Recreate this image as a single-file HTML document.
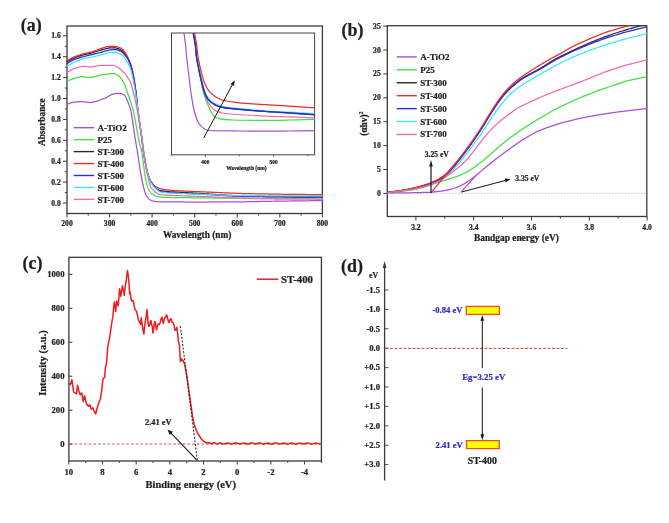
<!DOCTYPE html>
<html><head><meta charset="utf-8"><title>Figure</title>
<style>
html,body{margin:0;padding:0;background:#fff;}
body{width:669px;height:523px;overflow:hidden;}
svg{display:block;font-family:"Liberation Serif", serif;filter:blur(0.45px);}
</style></head>
<body>
<svg width="669" height="523" viewBox="0 0 669 523">
<rect x="0" y="0" width="669" height="523" fill="#fff"/>
<text x="20.8" y="30.5" font-size="18" text-anchor="start" fill="#1e1e1e" stroke="#1e1e1e" stroke-width="0.22" font-weight="bold">(a)</text>
<rect x="67" y="26" width="255.4" height="187.5" stroke="#3a3a3a" stroke-width="1.3" fill="none"/>
<line x1="63" y1="203" x2="67" y2="203" stroke="#3a3a3a" stroke-width="1"/>
<text x="60.8" y="205.51" font-size="7.6" text-anchor="end" fill="#1e1e1e" stroke="#1e1e1e" stroke-width="0.22" font-weight="bold">0.0</text>
<line x1="64.8" y1="192.55" x2="67" y2="192.55" stroke="#3a3a3a" stroke-width="0.9"/>
<line x1="63" y1="182.1" x2="67" y2="182.1" stroke="#3a3a3a" stroke-width="1"/>
<text x="60.8" y="184.61" font-size="7.6" text-anchor="end" fill="#1e1e1e" stroke="#1e1e1e" stroke-width="0.22" font-weight="bold">0.2</text>
<line x1="64.8" y1="171.65" x2="67" y2="171.65" stroke="#3a3a3a" stroke-width="0.9"/>
<line x1="63" y1="161.2" x2="67" y2="161.2" stroke="#3a3a3a" stroke-width="1"/>
<text x="60.8" y="163.71" font-size="7.6" text-anchor="end" fill="#1e1e1e" stroke="#1e1e1e" stroke-width="0.22" font-weight="bold">0.4</text>
<line x1="64.8" y1="150.75" x2="67" y2="150.75" stroke="#3a3a3a" stroke-width="0.9"/>
<line x1="63" y1="140.3" x2="67" y2="140.3" stroke="#3a3a3a" stroke-width="1"/>
<text x="60.8" y="142.81" font-size="7.6" text-anchor="end" fill="#1e1e1e" stroke="#1e1e1e" stroke-width="0.22" font-weight="bold">0.6</text>
<line x1="64.8" y1="129.85" x2="67" y2="129.85" stroke="#3a3a3a" stroke-width="0.9"/>
<line x1="63" y1="119.4" x2="67" y2="119.4" stroke="#3a3a3a" stroke-width="1"/>
<text x="60.8" y="121.91" font-size="7.6" text-anchor="end" fill="#1e1e1e" stroke="#1e1e1e" stroke-width="0.22" font-weight="bold">0.8</text>
<line x1="64.8" y1="108.95" x2="67" y2="108.95" stroke="#3a3a3a" stroke-width="0.9"/>
<line x1="63" y1="98.5" x2="67" y2="98.5" stroke="#3a3a3a" stroke-width="1"/>
<text x="60.8" y="101.01" font-size="7.6" text-anchor="end" fill="#1e1e1e" stroke="#1e1e1e" stroke-width="0.22" font-weight="bold">1.0</text>
<line x1="64.8" y1="88.05" x2="67" y2="88.05" stroke="#3a3a3a" stroke-width="0.9"/>
<line x1="63" y1="77.6" x2="67" y2="77.6" stroke="#3a3a3a" stroke-width="1"/>
<text x="60.8" y="80.11" font-size="7.6" text-anchor="end" fill="#1e1e1e" stroke="#1e1e1e" stroke-width="0.22" font-weight="bold">1.2</text>
<line x1="64.8" y1="67.15" x2="67" y2="67.15" stroke="#3a3a3a" stroke-width="0.9"/>
<line x1="63" y1="56.7" x2="67" y2="56.7" stroke="#3a3a3a" stroke-width="1"/>
<text x="60.8" y="59.21" font-size="7.6" text-anchor="end" fill="#1e1e1e" stroke="#1e1e1e" stroke-width="0.22" font-weight="bold">1.4</text>
<line x1="64.8" y1="46.25" x2="67" y2="46.25" stroke="#3a3a3a" stroke-width="0.9"/>
<line x1="63" y1="35.8" x2="67" y2="35.8" stroke="#3a3a3a" stroke-width="1"/>
<text x="60.8" y="38.31" font-size="7.6" text-anchor="end" fill="#1e1e1e" stroke="#1e1e1e" stroke-width="0.22" font-weight="bold">1.6</text>
<line x1="67" y1="213.5" x2="67" y2="217.5" stroke="#3a3a3a" stroke-width="1"/>
<text x="67" y="225.51" font-size="7.6" text-anchor="middle" fill="#1e1e1e" stroke="#1e1e1e" stroke-width="0.22" font-weight="bold">200</text>
<line x1="88.28" y1="213.5" x2="88.28" y2="215.7" stroke="#3a3a3a" stroke-width="0.9"/>
<line x1="109.57" y1="213.5" x2="109.57" y2="217.5" stroke="#3a3a3a" stroke-width="1"/>
<text x="109.57" y="225.51" font-size="7.6" text-anchor="middle" fill="#1e1e1e" stroke="#1e1e1e" stroke-width="0.22" font-weight="bold">300</text>
<line x1="130.85" y1="213.5" x2="130.85" y2="215.7" stroke="#3a3a3a" stroke-width="0.9"/>
<line x1="152.13" y1="213.5" x2="152.13" y2="217.5" stroke="#3a3a3a" stroke-width="1"/>
<text x="152.13" y="225.51" font-size="7.6" text-anchor="middle" fill="#1e1e1e" stroke="#1e1e1e" stroke-width="0.22" font-weight="bold">400</text>
<line x1="173.42" y1="213.5" x2="173.42" y2="215.7" stroke="#3a3a3a" stroke-width="0.9"/>
<line x1="194.7" y1="213.5" x2="194.7" y2="217.5" stroke="#3a3a3a" stroke-width="1"/>
<text x="194.7" y="225.51" font-size="7.6" text-anchor="middle" fill="#1e1e1e" stroke="#1e1e1e" stroke-width="0.22" font-weight="bold">500</text>
<line x1="215.98" y1="213.5" x2="215.98" y2="215.7" stroke="#3a3a3a" stroke-width="0.9"/>
<line x1="237.27" y1="213.5" x2="237.27" y2="217.5" stroke="#3a3a3a" stroke-width="1"/>
<text x="237.27" y="225.51" font-size="7.6" text-anchor="middle" fill="#1e1e1e" stroke="#1e1e1e" stroke-width="0.22" font-weight="bold">600</text>
<line x1="258.55" y1="213.5" x2="258.55" y2="215.7" stroke="#3a3a3a" stroke-width="0.9"/>
<line x1="279.83" y1="213.5" x2="279.83" y2="217.5" stroke="#3a3a3a" stroke-width="1"/>
<text x="279.83" y="225.51" font-size="7.6" text-anchor="middle" fill="#1e1e1e" stroke="#1e1e1e" stroke-width="0.22" font-weight="bold">700</text>
<line x1="301.12" y1="213.5" x2="301.12" y2="215.7" stroke="#3a3a3a" stroke-width="0.9"/>
<line x1="322.4" y1="213.5" x2="322.4" y2="217.5" stroke="#3a3a3a" stroke-width="1"/>
<text x="322.4" y="225.51" font-size="7.6" text-anchor="middle" fill="#1e1e1e" stroke="#1e1e1e" stroke-width="0.22" font-weight="bold">800</text>
<text x="197.1" y="237.97" font-size="9.3" text-anchor="middle" fill="#1e1e1e" stroke="#1e1e1e" stroke-width="0.22" font-weight="bold">Wavelength (nm)</text>
<text x="41.5" y="125.29" font-size="9.35" text-anchor="middle" fill="#1e1e1e" stroke="#1e1e1e" stroke-width="0.22" font-weight="bold" transform="rotate(-90 41.5 122.2)">Absorbance</text>
<path d="M67,104.14 L67.76,103.91 L68.53,103.67 L69.29,103.43 L70.06,103.19 L70.82,102.95 L71.59,102.72 L72.36,102.49 L73.13,102.3 L73.91,102.17 L74.71,102.08 L75.5,102.01 L76.3,101.96 L77.1,101.9 L77.9,101.85 L78.7,101.8 L79.5,101.74 L80.3,101.71 L81.1,101.7 L81.89,101.74 L82.69,101.81 L83.49,101.89 L84.29,101.97 L85.08,102.05 L85.88,102.13 L86.67,102.22 L87.47,102.3 L88.27,102.39 L89.06,102.48 L89.86,102.54 L90.65,102.54 L91.43,102.46 L92.21,102.31 L92.98,102.11 L93.76,101.91 L94.53,101.71 L95.31,101.5 L96.08,101.29 L96.85,101.06 L97.61,100.81 L98.36,100.55 L99.12,100.28 L99.87,100.01 L100.63,99.74 L101.38,99.48 L102.14,99.21 L102.89,98.94 L103.64,98.67 L104.4,98.4 L105.15,98.11 L105.88,97.81 L106.59,97.45 L107.29,97.06 L107.97,96.64 L108.65,96.22 L109.33,95.79 L110.01,95.37 L110.7,94.96 L111.4,94.6 L112.14,94.32 L112.9,94.11 L113.68,93.95 L114.47,93.8 L115.26,93.65 L116.04,93.51 L116.83,93.4 L117.63,93.35 L118.42,93.35 L119.22,93.38 L120.02,93.43 L120.8,93.53 L121.55,93.72 L122.27,94.03 L122.96,94.42 L123.63,94.84 L124.29,95.28 L124.89,95.78 L125.38,96.36 L125.77,97.03 L126.11,97.75 L126.42,98.49 L126.74,99.22 L127.05,99.96 L127.36,100.7 L127.68,101.43 L127.98,102.17 L128.28,102.92 L128.57,103.66 L128.85,104.41 L129.13,105.17 L129.4,105.92 L129.68,106.67 L129.95,107.42 L130.23,108.18 L130.49,108.93 L130.73,109.69 L130.92,110.46 L131.08,111.25 L131.2,112.04 L131.33,112.83 L131.45,113.62 L131.57,114.41 L131.69,115.2 L131.81,116 L131.94,116.79 L132.06,117.58 L132.18,118.37 L132.3,119.16 L132.42,119.95 L132.54,120.75 L132.66,121.54 L132.79,122.33 L132.91,123.12 L133.02,123.91 L133.14,124.71 L133.26,125.5 L133.37,126.29 L133.49,127.08 L133.6,127.88 L133.72,128.67 L133.83,129.46 L133.95,130.25 L134.06,131.05 L134.18,131.84 L134.3,132.63 L134.41,133.43 L134.53,134.22 L134.64,135.01 L134.76,135.8 L134.87,136.6 L134.99,137.39 L135.11,138.18 L135.24,138.97 L135.37,139.76 L135.51,140.55 L135.64,141.34 L135.78,142.13 L135.91,142.92 L136.05,143.71 L136.19,144.5 L136.32,145.29 L136.46,146.08 L136.59,146.87 L136.73,147.65 L136.86,148.44 L137,149.23 L137.13,150.02 L137.27,150.81 L137.4,151.6 L137.54,152.39 L137.66,153.18 L137.78,153.97 L137.9,154.77 L138.02,155.56 L138.13,156.35 L138.25,157.14 L138.37,157.94 L138.48,158.73 L138.6,159.52 L138.71,160.31 L138.83,161.11 L138.95,161.9 L139.06,162.69 L139.18,163.48 L139.3,164.28 L139.41,165.07 L139.53,165.86 L139.64,166.65 L139.76,167.45 L139.88,168.24 L139.99,169.03 L140.11,169.82 L140.23,170.62 L140.36,171.41 L140.51,172.19 L140.65,172.98 L140.8,173.77 L140.95,174.55 L141.11,175.34 L141.26,176.13 L141.41,176.91 L141.56,177.7 L141.71,178.49 L141.86,179.27 L142.01,180.06 L142.16,180.85 L142.31,181.63 L142.46,182.42 L142.61,183.21 L142.77,183.99 L142.94,184.77 L143.13,185.55 L143.34,186.33 L143.55,187.1 L143.76,187.87 L143.97,188.64 L144.18,189.42 L144.39,190.19 L144.6,190.96 L144.81,191.73 L145.03,192.51 L145.26,193.27 L145.54,194.01 L145.89,194.72 L146.3,195.4 L146.74,196.07 L147.18,196.73 L147.63,197.4 L148.1,198.04 L148.6,198.64 L149.19,199.15 L149.84,199.59 L150.54,199.98 L151.24,200.35 L151.96,200.7 L152.69,200.99 L153.45,201.19 L154.23,201.31 L155.03,201.39 L155.82,201.46 L156.62,201.52 L157.42,201.59 L158.22,201.65 L159.02,201.72 L159.82,201.77 L160.61,201.82 L161.41,201.85 L162.22,201.86 L163.02,201.86 L163.82,201.87 L164.62,201.87 L165.42,201.88 L166.22,201.88 L167.02,201.89 L167.82,201.89 L168.62,201.9 L169.42,201.9 L170.23,201.91 L171.03,201.91 L171.83,201.92 L172.63,201.92 L173.43,201.93 L174.23,201.93 L175.03,201.94 L175.83,201.94 L176.63,201.95 L177.43,201.95 L178.23,201.96 L179.04,201.96 L179.84,201.97 L180.64,201.97 L181.44,201.98 L182.24,201.98 L183.04,201.99 L183.84,201.99 L184.64,202 L185.44,202 L186.24,202.01 L187.05,202.01 L187.85,202.02 L188.65,202.02 L189.45,202.03 L190.25,202.03 L191.05,202.04 L191.85,202.04 L192.65,202.05 L193.45,202.05 L194.25,202.05 L195.06,202.06 L195.86,202.05 L196.66,202.05 L197.46,202.05 L198.26,202.04 L199.06,202.04 L199.86,202.04 L200.66,202.03 L201.46,202.03 L202.26,202.03 L203.06,202.02 L203.87,202.02 L204.67,202.01 L205.47,202.01 L206.27,202.01 L207.07,202 L207.87,202 L208.67,202 L209.47,201.99 L210.27,201.99 L211.07,201.99 L211.88,201.98 L212.68,201.98 L213.48,201.97 L214.28,201.97 L215.08,201.97 L215.88,201.96 L216.68,201.96 L217.48,201.96 L218.28,201.95 L219.08,201.95 L219.89,201.95 L220.69,201.94 L221.49,201.94 L222.29,201.93 L223.09,201.93 L223.89,201.93 L224.69,201.92 L225.49,201.92 L226.29,201.92 L227.09,201.91 L227.89,201.91 L228.7,201.9 L229.5,201.9 L230.3,201.9 L231.1,201.89 L231.9,201.89 L232.7,201.89 L233.5,201.88 L234.3,201.88 L235.1,201.88 L235.9,201.87 L236.71,201.87 L237.51,201.86 L238.31,201.86 L239.11,201.86 L239.91,201.85 L240.71,201.84 L241.51,201.83 L242.31,201.82 L243.11,201.8 L243.91,201.79 L244.71,201.77 L245.52,201.76 L246.32,201.75 L247.12,201.73 L247.92,201.72 L248.72,201.7 L249.52,201.69 L250.32,201.67 L251.12,201.66 L251.92,201.64 L252.72,201.63 L253.52,201.61 L254.32,201.6 L255.13,201.58 L255.93,201.57 L256.73,201.55 L257.53,201.54 L258.33,201.52 L259.13,201.51 L259.93,201.49 L260.73,201.48 L261.53,201.46 L262.33,201.45 L263.13,201.43 L263.93,201.42 L264.74,201.4 L265.54,201.39 L266.34,201.37 L267.14,201.36 L267.94,201.34 L268.74,201.33 L269.54,201.31 L270.34,201.3 L271.14,201.28 L271.94,201.27 L272.74,201.25 L273.54,201.24 L274.35,201.22 L275.15,201.21 L275.95,201.19 L276.75,201.18 L277.55,201.16 L278.35,201.15 L279.15,201.13 L279.95,201.12 L280.75,201.11 L281.55,201.1 L282.35,201.09 L283.16,201.08 L283.96,201.07 L284.76,201.06 L285.56,201.05 L286.36,201.04 L287.16,201.03 L287.96,201.02 L288.76,201.01 L289.56,201 L290.36,200.99 L291.16,200.98 L291.97,200.97 L292.77,200.96 L293.57,200.95 L294.37,200.94 L295.17,200.93 L295.97,200.92 L296.77,200.91 L297.57,200.9 L298.37,200.89 L299.17,200.88 L299.97,200.87 L300.78,200.86 L301.58,200.85 L302.38,200.84 L303.18,200.83 L303.98,200.82 L304.78,200.81 L305.58,200.8 L306.38,200.79 L307.18,200.78 L307.98,200.77 L308.78,200.76 L309.59,200.75 L310.39,200.74 L311.19,200.73 L311.99,200.72 L312.79,200.71 L313.59,200.7 L314.39,200.69 L315.19,200.68 L315.99,200.68 L316.79,200.67 L317.59,200.66 L318.4,200.65 L319.2,200.64 L320,200.63 L320.8,200.62 L321.6,200.61 L322.4,200.6" stroke="#a84ed8" stroke-width="1.25" fill="none" stroke-linejoin="round" stroke-linecap="round"/>
<path d="M67,81.15 L67.75,80.86 L68.49,80.57 L69.24,80.27 L69.99,79.98 L70.73,79.69 L71.48,79.39 L72.23,79.11 L72.98,78.83 L73.74,78.58 L74.5,78.35 L75.28,78.13 L76.05,77.92 L76.82,77.71 L77.6,77.5 L78.37,77.29 L79.14,77.08 L79.92,76.88 L80.7,76.74 L81.48,76.68 L82.28,76.7 L83.07,76.76 L83.87,76.84 L84.67,76.93 L85.46,77.01 L86.26,77.09 L87.06,77.18 L87.86,77.27 L88.65,77.35 L89.45,77.43 L90.24,77.47 L91.03,77.43 L91.81,77.31 L92.59,77.13 L93.36,76.92 L94.14,76.72 L94.91,76.51 L95.68,76.3 L96.46,76.09 L97.23,75.89 L98.01,75.68 L98.78,75.48 L99.56,75.28 L100.34,75.11 L101.13,74.97 L101.92,74.84 L102.72,74.73 L103.51,74.61 L104.3,74.5 L105.1,74.38 L105.89,74.27 L106.68,74.15 L107.48,74.04 L108.27,73.93 L109.07,73.83 L109.86,73.76 L110.66,73.72 L111.46,73.7 L112.26,73.68 L113.07,73.67 L113.86,73.68 L114.64,73.75 L115.39,73.95 L116.1,74.26 L116.79,74.64 L117.48,75.05 L118.17,75.47 L118.83,75.9 L119.45,76.39 L119.99,76.96 L120.47,77.59 L120.92,78.25 L121.37,78.91 L121.81,79.58 L122.26,80.25 L122.7,80.91 L123.14,81.58 L123.58,82.26 L123.98,82.94 L124.33,83.66 L124.63,84.39 L124.9,85.15 L125.16,85.91 L125.42,86.66 L125.68,87.42 L125.94,88.18 L126.2,88.94 L126.46,89.7 L126.72,90.46 L126.98,91.22 L127.24,91.97 L127.5,92.73 L127.76,93.49 L128.02,94.25 L128.28,95.01 L128.54,95.77 L128.79,96.53 L129.05,97.29 L129.3,98.05 L129.55,98.81 L129.81,99.57 L130.06,100.33 L130.32,101.09 L130.57,101.85 L130.83,102.61 L131.08,103.37 L131.34,104.13 L131.6,104.89 L131.85,105.65 L132.11,106.41 L132.37,107.17 L132.62,107.93 L132.87,108.69 L133.11,109.45 L133.32,110.23 L133.49,111.01 L133.65,111.79 L133.79,112.58 L133.94,113.37 L134.08,114.16 L134.23,114.95 L134.37,115.74 L134.52,116.53 L134.66,117.31 L134.81,118.1 L134.95,118.89 L135.09,119.68 L135.24,120.47 L135.38,121.26 L135.53,122.05 L135.67,122.83 L135.82,123.62 L135.96,124.41 L136.11,125.2 L136.25,125.99 L136.4,126.78 L136.54,127.57 L136.69,128.35 L136.83,129.14 L136.98,129.93 L137.13,130.72 L137.27,131.51 L137.42,132.3 L137.57,133.08 L137.71,133.87 L137.86,134.66 L138.01,135.45 L138.15,136.24 L138.3,137.03 L138.45,137.81 L138.59,138.6 L138.74,139.39 L138.89,140.18 L139.03,140.97 L139.18,141.75 L139.34,142.54 L139.51,143.32 L139.71,144.1 L139.92,144.87 L140.15,145.64 L140.38,146.41 L140.61,147.18 L140.84,147.94 L141.06,148.71 L141.28,149.48 L141.46,150.26 L141.61,151.05 L141.73,151.84 L141.84,152.63 L141.95,153.43 L142.06,154.22 L142.17,155.02 L142.29,155.81 L142.4,156.6 L142.51,157.4 L142.62,158.19 L142.73,158.99 L142.84,159.78 L142.95,160.58 L143.06,161.37 L143.17,162.16 L143.28,162.96 L143.39,163.75 L143.5,164.55 L143.61,165.34 L143.72,166.13 L143.83,166.93 L143.94,167.72 L144.05,168.52 L144.16,169.31 L144.27,170.11 L144.38,170.9 L144.49,171.69 L144.6,172.49 L144.71,173.28 L144.82,174.08 L144.93,174.87 L145.04,175.67 L145.15,176.46 L145.26,177.25 L145.38,178.05 L145.51,178.84 L145.68,179.62 L145.86,180.4 L146.05,181.18 L146.25,181.95 L146.45,182.73 L146.64,183.51 L146.84,184.29 L147.04,185.06 L147.24,185.84 L147.44,186.62 L147.65,187.39 L147.91,188.14 L148.24,188.86 L148.62,189.56 L149.03,190.25 L149.44,190.93 L149.86,191.61 L150.31,192.27 L150.8,192.89 L151.37,193.42 L152,193.88 L152.68,194.31 L153.36,194.73 L154.05,195.14 L154.74,195.55 L155.44,195.93 L156.16,196.23 L156.92,196.46 L157.7,196.64 L158.48,196.79 L159.27,196.92 L160.07,197.04 L160.86,197.12 L161.66,197.19 L162.46,197.26 L163.26,197.33 L164.06,197.38 L164.86,197.43 L165.66,197.46 L166.46,197.48 L167.26,197.49 L168.06,197.49 L168.87,197.5 L169.67,197.51 L170.47,197.52 L171.27,197.53 L172.07,197.54 L172.87,197.55 L173.68,197.55 L174.48,197.56 L175.28,197.57 L176.08,197.58 L176.88,197.59 L177.69,197.6 L178.49,197.6 L179.29,197.61 L180.09,197.62 L180.89,197.63 L181.69,197.64 L182.5,197.65 L183.3,197.66 L184.1,197.66 L184.9,197.67 L185.7,197.68 L186.5,197.69 L187.31,197.7 L188.11,197.71 L188.91,197.71 L189.71,197.72 L190.51,197.73 L191.31,197.74 L192.12,197.75 L192.92,197.76 L193.72,197.76 L194.52,197.77 L195.32,197.78 L196.13,197.79 L196.93,197.81 L197.73,197.82 L198.53,197.83 L199.33,197.84 L200.13,197.85 L200.94,197.86 L201.74,197.87 L202.54,197.88 L203.34,197.89 L204.14,197.9 L204.94,197.91 L205.75,197.93 L206.55,197.94 L207.35,197.95 L208.15,197.96 L208.95,197.97 L209.75,197.98 L210.56,197.99 L211.36,198 L212.16,198.01 L212.96,198.02 L213.76,198.03 L214.56,198.05 L215.37,198.06 L216.17,198.07 L216.97,198.08 L217.77,198.09 L218.57,198.1 L219.37,198.11 L220.18,198.12 L220.98,198.13 L221.78,198.14 L222.58,198.16 L223.38,198.17 L224.19,198.18 L224.99,198.19 L225.79,198.2 L226.59,198.21 L227.39,198.22 L228.19,198.23 L229,198.24 L229.8,198.25 L230.6,198.26 L231.4,198.28 L232.2,198.29 L233,198.3 L233.81,198.31 L234.61,198.32 L235.41,198.33 L236.21,198.34 L237.01,198.35 L237.81,198.36 L238.62,198.37 L239.42,198.38 L240.22,198.4 L241.02,198.4 L241.82,198.41 L242.62,198.42 L243.43,198.43 L244.23,198.44 L245.03,198.45 L245.83,198.46 L246.63,198.47 L247.44,198.47 L248.24,198.48 L249.04,198.49 L249.84,198.5 L250.64,198.51 L251.44,198.52 L252.25,198.53 L253.05,198.53 L253.85,198.54 L254.65,198.55 L255.45,198.56 L256.25,198.57 L257.06,198.58 L257.86,198.59 L258.66,198.59 L259.46,198.6 L260.26,198.61 L261.06,198.62 L261.87,198.63 L262.67,198.64 L263.47,198.65 L264.27,198.65 L265.07,198.66 L265.88,198.67 L266.68,198.68 L267.48,198.69 L268.28,198.7 L269.08,198.71 L269.88,198.71 L270.69,198.72 L271.49,198.73 L272.29,198.74 L273.09,198.75 L273.89,198.76 L274.69,198.77 L275.5,198.77 L276.3,198.78 L277.1,198.79 L277.9,198.8 L278.7,198.81 L279.5,198.82 L280.31,198.82 L281.11,198.83 L281.91,198.83 L282.71,198.83 L283.51,198.84 L284.32,198.84 L285.12,198.85 L285.92,198.85 L286.72,198.85 L287.52,198.86 L288.32,198.86 L289.13,198.87 L289.93,198.87 L290.73,198.87 L291.53,198.88 L292.33,198.88 L293.14,198.89 L293.94,198.89 L294.74,198.89 L295.54,198.9 L296.34,198.9 L297.14,198.9 L297.95,198.91 L298.75,198.91 L299.55,198.92 L300.35,198.92 L301.15,198.92 L301.95,198.93 L302.76,198.93 L303.56,198.94 L304.36,198.94 L305.16,198.94 L305.96,198.95 L306.77,198.95 L307.57,198.96 L308.37,198.96 L309.17,198.96 L309.97,198.97 L310.77,198.97 L311.58,198.98 L312.38,198.98 L313.18,198.98 L313.98,198.99 L314.78,198.99 L315.58,199 L316.39,199 L317.19,199 L317.99,199.01 L318.79,199.01 L319.59,199.02 L320.4,199.02 L321.2,199.02 L322,199.03 L322.4,199.03" stroke="#3fe040" stroke-width="1.25" fill="none" stroke-linejoin="round" stroke-linecap="round"/>
<path d="M67,61.92 L67.7,61.53 L68.39,61.13 L69.09,60.73 L69.78,60.33 L70.48,59.93 L71.17,59.53 L71.87,59.14 L72.57,58.75 L73.28,58.39 L74.01,58.06 L74.76,57.77 L75.51,57.49 L76.26,57.21 L77.01,56.93 L77.76,56.66 L78.52,56.38 L79.27,56.1 L80.02,55.82 L80.77,55.55 L81.53,55.3 L82.3,55.08 L83.08,54.89 L83.86,54.71 L84.65,54.55 L85.43,54.38 L86.21,54.21 L87,54.04 L87.78,53.88 L88.57,53.71 L89.35,53.54 L90.13,53.37 L90.91,53.19 L91.69,53 L92.46,52.77 L93.22,52.53 L93.98,52.28 L94.74,52.03 L95.51,51.78 L96.27,51.53 L97.03,51.27 L97.79,51.02 L98.55,50.77 L99.31,50.52 L100.08,50.29 L100.85,50.07 L101.62,49.86 L102.4,49.66 L103.17,49.46 L103.95,49.26 L104.73,49.06 L105.5,48.86 L106.28,48.66 L107.06,48.46 L107.83,48.27 L108.61,48.08 L109.4,47.94 L110.19,47.86 L110.98,47.83 L111.79,47.82 L112.59,47.82 L113.39,47.82 L114.19,47.82 L114.99,47.83 L115.78,47.89 L116.55,48.04 L117.29,48.29 L118.02,48.6 L118.75,48.94 L119.47,49.28 L120.2,49.63 L120.91,49.98 L121.61,50.36 L122.24,50.81 L122.81,51.35 L123.31,51.96 L123.8,52.59 L124.28,53.24 L124.76,53.88 L125.24,54.52 L125.72,55.16 L126.2,55.8 L126.68,56.45 L127.14,57.1 L127.56,57.77 L127.93,58.48 L128.26,59.21 L128.58,59.94 L128.88,60.68 L129.19,61.42 L129.5,62.16 L129.81,62.9 L130.12,63.64 L130.43,64.38 L130.72,65.13 L131,65.88 L131.23,66.64 L131.42,67.42 L131.59,68.2 L131.76,68.98 L131.93,69.77 L132.1,70.55 L132.27,71.33 L132.43,72.12 L132.6,72.9 L132.77,73.69 L132.94,74.47 L133.1,75.25 L133.27,76.04 L133.44,76.82 L133.6,77.61 L133.76,78.39 L133.9,79.18 L134.04,79.97 L134.16,80.76 L134.29,81.56 L134.41,82.35 L134.53,83.14 L134.66,83.93 L134.78,84.72 L134.91,85.52 L135.03,86.31 L135.15,87.1 L135.28,87.89 L135.4,88.68 L135.53,89.48 L135.65,90.27 L135.77,91.06 L135.89,91.85 L136,92.65 L136.1,93.44 L136.19,94.24 L136.28,95.03 L136.38,95.83 L136.47,96.63 L136.56,97.42 L136.65,98.22 L136.74,99.02 L136.83,99.81 L136.9,100.61 L136.98,101.41 L137.05,102.21 L137.12,103.01 L137.19,103.8 L137.27,104.6 L137.34,105.4 L137.41,106.2 L137.48,107 L137.56,107.8 L137.64,108.59 L137.74,109.39 L137.84,110.18 L137.96,110.98 L138.07,111.77 L138.19,112.56 L138.3,113.36 L138.42,114.15 L138.53,114.94 L138.65,115.74 L138.76,116.53 L138.88,117.32 L138.99,118.12 L139.11,118.91 L139.23,119.7 L139.34,120.5 L139.46,121.29 L139.57,122.08 L139.69,122.88 L139.8,123.67 L139.91,124.46 L140.02,125.26 L140.14,126.05 L140.25,126.85 L140.36,127.64 L140.47,128.43 L140.58,129.23 L140.69,130.02 L140.8,130.81 L140.91,131.61 L141.02,132.4 L141.14,133.2 L141.25,133.99 L141.36,134.78 L141.47,135.58 L141.58,136.37 L141.69,137.17 L141.8,137.96 L141.91,138.75 L142.02,139.55 L142.12,140.34 L142.21,141.14 L142.3,141.94 L142.38,142.73 L142.47,143.53 L142.55,144.33 L142.64,145.13 L142.72,145.92 L142.81,146.72 L142.9,147.51 L143.01,148.31 L143.13,149.1 L143.25,149.89 L143.37,150.69 L143.5,151.48 L143.62,152.27 L143.74,153.06 L143.87,153.85 L143.99,154.65 L144.11,155.44 L144.24,156.23 L144.36,157.02 L144.48,157.82 L144.61,158.61 L144.75,159.4 L144.9,160.18 L145.05,160.97 L145.2,161.76 L145.35,162.55 L145.51,163.33 L145.66,164.12 L145.81,164.91 L145.97,165.69 L146.12,166.48 L146.27,167.27 L146.43,168.05 L146.58,168.84 L146.74,169.63 L146.9,170.41 L147.08,171.19 L147.28,171.97 L147.5,172.74 L147.73,173.5 L147.96,174.27 L148.19,175.04 L148.42,175.81 L148.67,176.57 L148.95,177.32 L149.26,178.06 L149.58,178.79 L149.9,179.52 L150.23,180.25 L150.59,180.97 L150.98,181.66 L151.42,182.33 L151.89,182.97 L152.38,183.61 L152.86,184.25 L153.35,184.89 L153.83,185.53 L154.31,186.17 L154.79,186.81 L155.29,187.43 L155.82,188.01 L156.42,188.52 L157.08,188.95 L157.77,189.35 L158.48,189.73 L159.19,190.07 L159.93,190.35 L160.7,190.54 L161.48,190.68 L162.27,190.79 L163.07,190.9 L163.86,191 L164.66,191.11 L165.45,191.22 L166.25,191.32 L167.04,191.43 L167.84,191.53 L168.63,191.63 L169.43,191.71 L170.23,191.76 L171.03,191.81 L171.83,191.86 L172.63,191.9 L173.43,191.94 L174.23,191.98 L175.03,192.03 L175.83,192.07 L176.63,192.11 L177.43,192.15 L178.23,192.2 L179.03,192.24 L179.83,192.28 L180.63,192.32 L181.44,192.37 L182.24,192.41 L183.04,192.45 L183.84,192.49 L184.64,192.54 L185.44,192.58 L186.24,192.62 L187.04,192.66 L187.84,192.71 L188.64,192.75 L189.44,192.79 L190.24,192.84 L191.04,192.88 L191.84,192.92 L192.64,192.96 L193.44,193.01 L194.24,193.05 L195.04,193.1 L195.84,193.15 L196.64,193.2 L197.44,193.25 L198.24,193.31 L199.04,193.36 L199.84,193.41 L200.64,193.46 L201.44,193.52 L202.24,193.57 L203.04,193.62 L203.84,193.68 L204.64,193.73 L205.44,193.78 L206.24,193.83 L207.04,193.89 L207.84,193.94 L208.64,193.99 L209.44,194.04 L210.24,194.1 L211.04,194.15 L211.84,194.2 L212.64,194.26 L213.44,194.31 L214.24,194.36 L215.04,194.41 L215.84,194.47 L216.64,194.52 L217.44,194.57 L218.24,194.62 L219.04,194.68 L219.84,194.73 L220.64,194.78 L221.44,194.84 L222.24,194.89 L223.04,194.94 L223.84,194.99 L224.64,195.05 L225.44,195.1 L226.24,195.15 L227.04,195.2 L227.84,195.26 L228.64,195.31 L229.44,195.36 L230.24,195.42 L231.04,195.47 L231.84,195.52 L232.64,195.57 L233.44,195.63 L234.24,195.68 L235.04,195.73 L235.84,195.78 L236.64,195.84 L237.44,195.89 L238.24,195.94 L239.04,195.99 L239.84,196.04 L240.64,196.08 L241.44,196.11 L242.24,196.13 L243.04,196.14 L243.84,196.15 L244.65,196.17 L245.45,196.18 L246.25,196.19 L247.05,196.21 L247.85,196.22 L248.65,196.23 L249.45,196.24 L250.26,196.26 L251.06,196.27 L251.86,196.28 L252.66,196.29 L253.46,196.31 L254.26,196.32 L255.07,196.33 L255.87,196.35 L256.67,196.36 L257.47,196.37 L258.27,196.38 L259.07,196.4 L259.87,196.41 L260.68,196.42 L261.48,196.44 L262.28,196.45 L263.08,196.46 L263.88,196.47 L264.68,196.49 L265.49,196.5 L266.29,196.51 L267.09,196.53 L267.89,196.54 L268.69,196.55 L269.49,196.56 L270.29,196.58 L271.1,196.59 L271.9,196.6 L272.7,196.62 L273.5,196.63 L274.3,196.64 L275.1,196.65 L275.91,196.67 L276.71,196.68 L277.51,196.69 L278.31,196.71 L279.11,196.72 L279.91,196.73 L280.72,196.73 L281.52,196.74 L282.32,196.74 L283.12,196.75 L283.92,196.75 L284.72,196.75 L285.52,196.76 L286.33,196.76 L287.13,196.77 L287.93,196.77 L288.73,196.77 L289.53,196.78 L290.33,196.78 L291.14,196.79 L291.94,196.79 L292.74,196.79 L293.54,196.8 L294.34,196.8 L295.14,196.81 L295.95,196.81 L296.75,196.81 L297.55,196.82 L298.35,196.82 L299.15,196.82 L299.95,196.83 L300.76,196.83 L301.56,196.84 L302.36,196.84 L303.16,196.84 L303.96,196.85 L304.76,196.85 L305.57,196.86 L306.37,196.86 L307.17,196.86 L307.97,196.87 L308.77,196.87 L309.57,196.88 L310.38,196.88 L311.18,196.88 L311.98,196.89 L312.78,196.89 L313.58,196.9 L314.38,196.9 L315.19,196.9 L315.99,196.91 L316.79,196.91 L317.59,196.92 L318.39,196.92 L319.19,196.92 L320,196.93 L320.8,196.93 L321.6,196.94 L322.4,196.94" stroke="#2a2a2a" stroke-width="1.25" fill="none" stroke-linejoin="round" stroke-linecap="round"/>
<path d="M67,60.67 L67.71,60.29 L68.41,59.91 L69.12,59.53 L69.82,59.15 L70.53,58.77 L71.23,58.39 L71.94,58.01 L72.65,57.64 L73.37,57.29 L74.1,56.98 L74.85,56.69 L75.6,56.41 L76.35,56.13 L77.1,55.85 L77.86,55.58 L78.61,55.3 L79.36,55.02 L80.11,54.75 L80.87,54.48 L81.63,54.23 L82.4,54.01 L83.17,53.82 L83.96,53.65 L84.74,53.48 L85.52,53.31 L86.31,53.15 L87.09,52.98 L87.88,52.81 L88.66,52.64 L89.44,52.48 L90.23,52.31 L91,52.12 L91.77,51.91 L92.53,51.66 L93.29,51.39 L94.04,51.1 L94.79,50.82 L95.54,50.53 L96.28,50.25 L97.03,49.96 L97.78,49.68 L98.53,49.39 L99.28,49.11 L100.03,48.83 L100.79,48.57 L101.55,48.31 L102.31,48.05 L103.06,47.79 L103.82,47.54 L104.58,47.28 L105.34,47.03 L106.11,46.8 L106.88,46.61 L107.66,46.51 L108.46,46.47 L109.26,46.46 L110.06,46.46 L110.86,46.46 L111.66,46.46 L112.46,46.46 L113.26,46.46 L114.07,46.46 L114.87,46.47 L115.66,46.51 L116.45,46.61 L117.22,46.79 L117.99,47 L118.76,47.24 L119.51,47.49 L120.24,47.8 L120.92,48.18 L121.56,48.65 L122.18,49.16 L122.78,49.68 L123.37,50.22 L123.93,50.78 L124.44,51.39 L124.88,52.05 L125.3,52.73 L125.71,53.42 L126.12,54.11 L126.53,54.8 L126.93,55.49 L127.33,56.19 L127.69,56.9 L128.03,57.62 L128.34,58.36 L128.65,59.1 L128.96,59.84 L129.26,60.58 L129.57,61.32 L129.87,62.06 L130.17,62.81 L130.45,63.56 L130.71,64.31 L130.94,65.08 L131.16,65.85 L131.39,66.62 L131.61,67.39 L131.83,68.16 L132.05,68.93 L132.27,69.7 L132.48,70.47 L132.69,71.25 L132.88,72.03 L133.04,72.81 L133.19,73.6 L133.34,74.38 L133.48,75.17 L133.63,75.96 L133.78,76.75 L133.92,77.54 L134.07,78.32 L134.21,79.11 L134.36,79.9 L134.49,80.69 L134.61,81.48 L134.72,82.28 L134.82,83.07 L134.92,83.87 L135.02,84.66 L135.12,85.46 L135.21,86.25 L135.31,87.05 L135.41,87.84 L135.51,88.64 L135.61,89.43 L135.71,90.23 L135.81,91.03 L135.91,91.82 L136,92.62 L136.1,93.41 L136.19,94.21 L136.28,95 L136.37,95.8 L136.47,96.6 L136.56,97.39 L136.65,98.19 L136.74,98.99 L136.82,99.78 L136.9,100.58 L136.97,101.38 L137.05,102.18 L137.12,102.97 L137.19,103.77 L137.26,104.57 L137.34,105.37 L137.41,106.17 L137.48,106.97 L137.56,107.76 L137.64,108.56 L137.73,109.36 L137.84,110.15 L137.95,110.94 L138.07,111.74 L138.18,112.53 L138.3,113.32 L138.41,114.12 L138.53,114.91 L138.64,115.7 L138.76,116.5 L138.87,117.29 L138.99,118.08 L139.1,118.87 L139.22,119.67 L139.34,120.46 L139.45,121.25 L139.57,122.05 L139.68,122.84 L139.79,123.63 L139.91,124.43 L140.02,125.22 L140.13,126.01 L140.24,126.81 L140.35,127.6 L140.46,128.4 L140.57,129.19 L140.69,129.98 L140.8,130.78 L140.91,131.57 L141.02,132.36 L141.13,133.16 L141.24,133.95 L141.35,134.75 L141.46,135.54 L141.57,136.33 L141.69,137.13 L141.8,137.92 L141.91,138.71 L142.02,139.51 L142.12,140.3 L142.21,141.1 L142.3,141.9 L142.38,142.69 L142.46,143.49 L142.55,144.29 L142.63,145.08 L142.72,145.88 L142.8,146.68 L142.9,147.47 L143.01,148.27 L143.12,149.06 L143.24,149.85 L143.37,150.64 L143.49,151.44 L143.61,152.23 L143.74,153.02 L143.86,153.81 L143.98,154.6 L144.11,155.4 L144.23,156.19 L144.35,156.98 L144.48,157.77 L144.61,158.56 L144.74,159.35 L144.89,160.14 L145.04,160.93 L145.19,161.71 L145.34,162.5 L145.5,163.29 L145.65,164.07 L145.8,164.86 L145.96,165.65 L146.11,166.43 L146.26,167.22 L146.42,168.01 L146.57,168.79 L146.73,169.58 L146.89,170.36 L147.07,171.14 L147.27,171.92 L147.49,172.69 L147.72,173.46 L147.94,174.23 L148.17,174.99 L148.41,175.76 L148.66,176.52 L148.93,177.27 L149.24,178.01 L149.56,178.75 L149.88,179.48 L150.21,180.21 L150.56,180.93 L150.95,181.62 L151.39,182.29 L151.86,182.93 L152.36,183.56 L152.88,184.16 L153.45,184.72 L154.05,185.24 L154.67,185.75 L155.3,186.23 L155.96,186.68 L156.66,187.07 L157.37,187.41 L158.11,187.74 L158.84,188.05 L159.59,188.34 L160.34,188.59 L161.12,188.78 L161.9,188.94 L162.69,189.09 L163.48,189.24 L164.26,189.39 L165.05,189.52 L165.85,189.64 L166.64,189.75 L167.43,189.85 L168.23,189.96 L169.02,190.06 L169.82,190.17 L170.61,190.27 L171.41,190.37 L172.21,190.44 L173,190.5 L173.8,190.54 L174.6,190.58 L175.41,190.62 L176.21,190.65 L177.01,190.69 L177.81,190.73 L178.61,190.76 L179.41,190.8 L180.21,190.84 L181.01,190.87 L181.81,190.91 L182.61,190.95 L183.41,190.99 L184.21,191.02 L185.01,191.06 L185.81,191.1 L186.61,191.13 L187.41,191.17 L188.22,191.21 L189.02,191.24 L189.82,191.28 L190.62,191.32 L191.42,191.35 L192.22,191.39 L193.02,191.43 L193.82,191.46 L194.62,191.5 L195.42,191.54 L196.22,191.57 L197.02,191.61 L197.82,191.64 L198.62,191.67 L199.42,191.71 L200.23,191.74 L201.03,191.78 L201.83,191.81 L202.63,191.85 L203.43,191.88 L204.23,191.92 L205.03,191.95 L205.83,191.99 L206.63,192.02 L207.43,192.05 L208.23,192.09 L209.03,192.12 L209.83,192.16 L210.63,192.19 L211.44,192.23 L212.24,192.26 L213.04,192.3 L213.84,192.33 L214.64,192.37 L215.44,192.4 L216.24,192.44 L217.04,192.47 L217.84,192.5 L218.64,192.54 L219.44,192.57 L220.24,192.61 L221.04,192.64 L221.84,192.68 L222.64,192.71 L223.45,192.75 L224.25,192.78 L225.05,192.82 L225.85,192.85 L226.65,192.88 L227.45,192.92 L228.25,192.95 L229.05,192.99 L229.85,193.02 L230.65,193.06 L231.45,193.09 L232.25,193.13 L233.05,193.16 L233.85,193.2 L234.66,193.23 L235.46,193.27 L236.26,193.3 L237.06,193.33 L237.86,193.37 L238.66,193.4 L239.46,193.44 L240.26,193.47 L241.06,193.49 L241.86,193.51 L242.66,193.53 L243.47,193.54 L244.27,193.56 L245.07,193.57 L245.87,193.59 L246.67,193.6 L247.47,193.62 L248.27,193.63 L249.07,193.65 L249.88,193.66 L250.68,193.68 L251.48,193.69 L252.28,193.71 L253.08,193.72 L253.88,193.74 L254.68,193.75 L255.49,193.77 L256.29,193.78 L257.09,193.8 L257.89,193.81 L258.69,193.83 L259.49,193.84 L260.29,193.86 L261.09,193.87 L261.9,193.89 L262.7,193.9 L263.5,193.92 L264.3,193.93 L265.1,193.95 L265.9,193.96 L266.7,193.98 L267.51,193.99 L268.31,194.01 L269.11,194.02 L269.91,194.04 L270.71,194.05 L271.51,194.07 L272.31,194.08 L273.11,194.1 L273.92,194.11 L274.72,194.13 L275.52,194.14 L276.32,194.16 L277.12,194.17 L277.92,194.19 L278.72,194.2 L279.52,194.21 L280.33,194.23 L281.13,194.24 L281.93,194.25 L282.73,194.25 L283.53,194.26 L284.33,194.27 L285.13,194.28 L285.94,194.29 L286.74,194.3 L287.54,194.31 L288.34,194.32 L289.14,194.32 L289.94,194.33 L290.74,194.34 L291.55,194.35 L292.35,194.36 L293.15,194.37 L293.95,194.38 L294.75,194.39 L295.55,194.4 L296.35,194.4 L297.16,194.41 L297.96,194.42 L298.76,194.43 L299.56,194.44 L300.36,194.45 L301.16,194.46 L301.96,194.47 L302.77,194.48 L303.57,194.48 L304.37,194.49 L305.17,194.5 L305.97,194.51 L306.77,194.52 L307.57,194.53 L308.38,194.54 L309.18,194.55 L309.98,194.56 L310.78,194.56 L311.58,194.57 L312.38,194.58 L313.18,194.59 L313.99,194.6 L314.79,194.61 L315.59,194.62 L316.39,194.63 L317.19,194.63 L317.99,194.64 L318.79,194.65 L319.6,194.66 L320.4,194.67 L321.2,194.68 L322,194.69 L322.4,194.69" stroke="#ee2a2a" stroke-width="1.25" fill="none" stroke-linejoin="round" stroke-linecap="round"/>
<path d="M67,63.49 L67.7,63.09 L68.39,62.7 L69.09,62.3 L69.78,61.9 L70.48,61.5 L71.17,61.1 L71.87,60.71 L72.57,60.32 L73.29,59.97 L74.02,59.67 L74.77,59.4 L75.53,59.15 L76.3,58.9 L77.06,58.66 L77.82,58.41 L78.59,58.17 L79.35,57.93 L80.11,57.68 L80.88,57.44 L81.64,57.19 L82.4,56.96 L83.17,56.73 L83.94,56.52 L84.72,56.32 L85.5,56.13 L86.28,55.94 L87.05,55.75 L87.83,55.56 L88.61,55.37 L89.39,55.17 L90.17,54.98 L90.95,54.79 L91.72,54.6 L92.5,54.41 L93.28,54.22 L94.06,54.03 L94.84,53.84 L95.61,53.65 L96.39,53.46 L97.17,53.26 L97.95,53.07 L98.73,52.88 L99.5,52.69 L100.28,52.49 L101.05,52.28 L101.83,52.07 L102.6,51.85 L103.37,51.64 L104.14,51.42 L104.91,51.21 L105.68,50.99 L106.46,50.78 L107.23,50.56 L108,50.35 L108.77,50.15 L109.56,49.99 L110.35,49.87 L111.14,49.79 L111.94,49.73 L112.74,49.66 L113.54,49.6 L114.33,49.54 L115.13,49.5 L115.92,49.52 L116.68,49.64 L117.43,49.88 L118.17,50.18 L118.9,50.49 L119.64,50.81 L120.37,51.14 L121.09,51.47 L121.79,51.85 L122.43,52.3 L123,52.83 L123.54,53.42 L124.06,54.03 L124.58,54.64 L125.1,55.25 L125.61,55.86 L126.13,56.47 L126.64,57.09 L127.14,57.71 L127.58,58.37 L127.96,59.07 L128.29,59.79 L128.6,60.53 L128.91,61.27 L129.22,62.01 L129.53,62.75 L129.84,63.49 L130.15,64.23 L130.45,64.97 L130.75,65.71 L131.01,66.46 L131.24,67.23 L131.42,68 L131.59,68.79 L131.75,69.57 L131.91,70.36 L132.07,71.14 L132.24,71.93 L132.4,72.71 L132.56,73.5 L132.72,74.28 L132.88,75.07 L133.04,75.85 L133.2,76.64 L133.36,77.42 L133.52,78.21 L133.68,78.99 L133.83,79.78 L133.97,80.57 L134.11,81.36 L134.25,82.15 L134.38,82.94 L134.51,83.73 L134.65,84.52 L134.78,85.31 L134.92,86.1 L135.05,86.89 L135.18,87.67 L135.32,88.46 L135.45,89.25 L135.59,90.04 L135.72,90.83 L135.85,91.63 L135.96,92.42 L136.07,93.21 L136.16,94.01 L136.26,94.8 L136.35,95.6 L136.44,96.4 L136.54,97.19 L136.63,97.99 L136.72,98.78 L136.8,99.58 L136.88,100.38 L136.96,101.17 L137.03,101.97 L137.1,102.77 L137.17,103.57 L137.25,104.37 L137.32,105.16 L137.39,105.96 L137.46,106.76 L137.54,107.56 L137.62,108.35 L137.71,109.15 L137.81,109.95 L137.92,110.74 L138.04,111.53 L138.15,112.32 L138.27,113.12 L138.38,113.91 L138.5,114.7 L138.61,115.5 L138.73,116.29 L138.84,117.08 L138.96,117.87 L139.07,118.67 L139.19,119.46 L139.3,120.25 L139.42,121.05 L139.54,121.84 L139.65,122.63 L139.76,123.42 L139.88,124.22 L139.99,125.01 L140.1,125.8 L140.21,126.6 L140.32,127.39 L140.43,128.19 L140.54,128.98 L140.66,129.77 L140.77,130.57 L140.88,131.36 L140.99,132.15 L141.1,132.95 L141.21,133.74 L141.32,134.53 L141.43,135.33 L141.54,136.12 L141.66,136.91 L141.77,137.71 L141.88,138.5 L141.99,139.29 L142.09,140.09 L142.19,140.88 L142.27,141.68 L142.36,142.48 L142.44,143.27 L142.53,144.07 L142.61,144.87 L142.69,145.66 L142.78,146.46 L142.87,147.26 L142.97,148.05 L143.09,148.84 L143.21,149.64 L143.33,150.43 L143.46,151.22 L143.58,152.01 L143.7,152.8 L143.83,153.59 L143.95,154.39 L144.07,155.18 L144.2,155.97 L144.32,156.76 L144.44,157.55 L144.57,158.34 L144.7,159.13 L144.85,159.92 L145,160.71 L145.15,161.5 L145.3,162.28 L145.46,163.07 L145.61,163.85 L145.76,164.64 L145.91,165.43 L146.07,166.21 L146.22,167 L146.37,167.79 L146.53,168.57 L146.68,169.36 L146.84,170.14 L147.02,170.93 L147.21,171.7 L147.43,172.47 L147.65,173.24 L147.88,174.01 L148.11,174.78 L148.34,175.54 L148.58,176.31 L148.85,177.06 L149.15,177.8 L149.47,178.54 L149.79,179.27 L150.12,180 L150.46,180.72 L150.83,181.43 L151.26,182.1 L151.72,182.75 L152.21,183.39 L152.69,184.02 L153.18,184.66 L153.66,185.3 L154.14,185.94 L154.62,186.58 L155.11,187.22 L155.62,187.83 L156.16,188.41 L156.75,188.94 L157.37,189.44 L158.01,189.93 L158.65,190.4 L159.31,190.83 L160.01,191.16 L160.76,191.38 L161.54,191.52 L162.33,191.63 L163.13,191.74 L163.92,191.85 L164.71,191.95 L165.51,192.06 L166.3,192.17 L167.1,192.27 L167.89,192.38 L168.69,192.47 L169.48,192.54 L170.28,192.6 L171.08,192.64 L171.88,192.68 L172.68,192.72 L173.48,192.76 L174.28,192.8 L175.08,192.84 L175.88,192.88 L176.68,192.92 L177.48,192.96 L178.28,193 L179.08,193.04 L179.88,193.08 L180.68,193.12 L181.48,193.16 L182.28,193.19 L183.09,193.23 L183.89,193.27 L184.69,193.31 L185.49,193.35 L186.29,193.39 L187.09,193.43 L187.89,193.47 L188.69,193.51 L189.49,193.55 L190.29,193.59 L191.09,193.63 L191.89,193.67 L192.69,193.71 L193.49,193.75 L194.29,193.79 L195.09,193.83 L195.89,193.87 L196.69,193.92 L197.49,193.97 L198.29,194.02 L199.09,194.06 L199.89,194.11 L200.69,194.16 L201.49,194.21 L202.29,194.25 L203.09,194.3 L203.89,194.35 L204.69,194.39 L205.49,194.44 L206.29,194.49 L207.09,194.54 L207.89,194.58 L208.69,194.63 L209.49,194.68 L210.29,194.73 L211.09,194.77 L211.88,194.82 L212.68,194.87 L213.48,194.91 L214.28,194.96 L215.08,195.01 L215.88,195.06 L216.68,195.1 L217.48,195.15 L218.28,195.2 L219.08,195.25 L219.88,195.29 L220.68,195.34 L221.48,195.39 L222.28,195.43 L223.08,195.48 L223.88,195.53 L224.68,195.58 L225.48,195.62 L226.28,195.67 L227.08,195.72 L227.88,195.77 L228.68,195.81 L229.48,195.86 L230.28,195.91 L231.08,195.95 L231.88,196 L232.68,196.05 L233.48,196.1 L234.28,196.14 L235.08,196.19 L235.88,196.24 L236.68,196.29 L237.48,196.33 L238.28,196.38 L239.08,196.43 L239.88,196.47 L240.68,196.5 L241.48,196.52 L242.28,196.54 L243.08,196.55 L243.88,196.56 L244.68,196.56 L245.49,196.57 L246.29,196.58 L247.09,196.59 L247.89,196.6 L248.69,196.61 L249.49,196.62 L250.29,196.62 L251.09,196.63 L251.89,196.64 L252.7,196.65 L253.5,196.66 L254.3,196.67 L255.1,196.67 L255.9,196.68 L256.7,196.69 L257.5,196.7 L258.3,196.71 L259.11,196.72 L259.91,196.73 L260.71,196.73 L261.51,196.74 L262.31,196.75 L263.11,196.76 L263.91,196.77 L264.71,196.78 L265.51,196.79 L266.32,196.79 L267.12,196.8 L267.92,196.81 L268.72,196.82 L269.52,196.83 L270.32,196.84 L271.12,196.85 L271.92,196.85 L272.73,196.86 L273.53,196.87 L274.33,196.88 L275.13,196.89 L275.93,196.9 L276.73,196.91 L277.53,196.91 L278.33,196.92 L279.13,196.93 L279.94,196.94 L280.74,196.94 L281.54,196.95 L282.34,196.95 L283.14,196.96 L283.94,196.96 L284.74,196.96 L285.54,196.97 L286.35,196.97 L287.15,196.97 L287.95,196.98 L288.75,196.98 L289.55,196.99 L290.35,196.99 L291.15,196.99 L291.95,197 L292.76,197 L293.56,197.01 L294.36,197.01 L295.16,197.01 L295.96,197.02 L296.76,197.02 L297.56,197.03 L298.36,197.03 L299.16,197.03 L299.97,197.04 L300.77,197.04 L301.57,197.05 L302.37,197.05 L303.17,197.05 L303.97,197.06 L304.77,197.06 L305.57,197.07 L306.38,197.07 L307.18,197.07 L307.98,197.08 L308.78,197.08 L309.58,197.09 L310.38,197.09 L311.18,197.09 L311.98,197.1 L312.79,197.1 L313.59,197.1 L314.39,197.11 L315.19,197.11 L315.99,197.12 L316.79,197.12 L317.59,197.12 L318.39,197.13 L319.2,197.13 L320,197.14 L320.8,197.14 L321.6,197.14 L322.4,197.15" stroke="#2a2ae8" stroke-width="1.25" fill="none" stroke-linejoin="round" stroke-linecap="round"/>
<path d="M67,66.31 L67.69,65.9 L68.37,65.48 L69.06,65.07 L69.74,64.65 L70.43,64.24 L71.11,63.82 L71.8,63.41 L72.49,63.01 L73.19,62.63 L73.91,62.29 L74.65,61.98 L75.4,61.7 L76.15,61.41 L76.9,61.13 L77.65,60.85 L78.4,60.57 L79.15,60.29 L79.9,60.01 L80.65,59.73 L81.4,59.45 L82.16,59.18 L82.92,58.94 L83.69,58.73 L84.47,58.56 L85.25,58.41 L86.04,58.26 L86.83,58.12 L87.62,57.97 L88.41,57.83 L89.19,57.68 L89.98,57.54 L90.77,57.39 L91.55,57.23 L92.33,57.05 L93.11,56.87 L93.89,56.68 L94.67,56.49 L95.45,56.3 L96.23,56.11 L97,55.92 L97.78,55.73 L98.56,55.53 L99.34,55.34 L100.11,55.14 L100.89,54.94 L101.66,54.72 L102.43,54.51 L103.2,54.29 L103.98,54.08 L104.75,53.86 L105.52,53.65 L106.29,53.43 L107.06,53.22 L107.84,53.01 L108.61,52.81 L109.39,52.64 L110.18,52.53 L110.97,52.46 L111.77,52.42 L112.57,52.38 L113.37,52.34 L114.17,52.31 L114.97,52.29 L115.75,52.32 L116.52,52.45 L117.25,52.71 L117.97,53.04 L118.69,53.4 L119.4,53.77 L120.11,54.13 L120.82,54.5 L121.53,54.87 L122.22,55.27 L122.84,55.73 L123.39,56.28 L123.88,56.91 L124.33,57.56 L124.77,58.23 L125.22,58.89 L125.66,59.56 L126.11,60.23 L126.55,60.89 L126.99,61.57 L127.41,62.25 L127.79,62.95 L128.14,63.67 L128.47,64.4 L128.79,65.13 L129.11,65.86 L129.43,66.6 L129.76,67.33 L130.08,68.06 L130.4,68.8 L130.71,69.53 L130.99,70.28 L131.23,71.04 L131.42,71.82 L131.6,72.6 L131.77,73.38 L131.94,74.16 L132.11,74.95 L132.28,75.73 L132.45,76.51 L132.62,77.29 L132.79,78.08 L132.95,78.86 L133.12,79.64 L133.29,80.43 L133.44,81.21 L133.59,82 L133.74,82.79 L133.89,83.58 L134.03,84.36 L134.17,85.15 L134.32,85.94 L134.46,86.73 L134.6,87.52 L134.75,88.31 L134.88,89.09 L135.02,89.88 L135.14,90.68 L135.27,91.47 L135.39,92.26 L135.52,93.05 L135.65,93.84 L135.77,94.63 L135.9,95.42 L136.02,96.21 L136.15,97.01 L136.27,97.8 L136.39,98.59 L136.5,99.38 L136.61,100.18 L136.72,100.97 L136.83,101.76 L136.93,102.56 L137.04,103.35 L137.15,104.15 L137.26,104.94 L137.37,105.73 L137.47,106.53 L137.58,107.32 L137.69,108.11 L137.81,108.91 L137.92,109.7 L138.04,110.49 L138.15,111.29 L138.27,112.08 L138.38,112.87 L138.5,113.66 L138.61,114.46 L138.73,115.25 L138.84,116.04 L138.96,116.84 L139.08,117.63 L139.19,118.42 L139.31,119.21 L139.42,120.01 L139.54,120.8 L139.65,121.59 L139.77,122.39 L139.88,123.18 L139.99,123.97 L140.1,124.77 L140.21,125.56 L140.32,126.35 L140.43,127.15 L140.55,127.94 L140.66,128.73 L140.77,129.53 L140.88,130.32 L140.99,131.11 L141.1,131.91 L141.21,132.7 L141.32,133.49 L141.43,134.29 L141.55,135.08 L141.66,135.87 L141.77,136.67 L141.88,137.46 L141.99,138.25 L142.09,139.05 L142.19,139.84 L142.27,140.64 L142.36,141.44 L142.44,142.23 L142.53,143.03 L142.61,143.83 L142.69,144.62 L142.78,145.42 L142.87,146.22 L142.98,147.01 L143.09,147.8 L143.21,148.59 L143.33,149.39 L143.46,150.18 L143.58,150.97 L143.7,151.76 L143.83,152.55 L143.95,153.34 L144.07,154.14 L144.2,154.93 L144.32,155.72 L144.44,156.51 L144.57,157.3 L144.7,158.09 L144.84,158.88 L144.98,159.67 L145.13,160.46 L145.28,161.24 L145.42,162.03 L145.57,162.82 L145.72,163.61 L145.87,164.39 L146.01,165.18 L146.16,165.97 L146.31,166.76 L146.45,167.54 L146.6,168.33 L146.75,169.12 L146.91,169.9 L147.08,170.69 L147.27,171.46 L147.47,172.24 L147.68,173.01 L147.89,173.79 L148.1,174.56 L148.31,175.33 L148.53,176.1 L148.77,176.86 L149.04,177.62 L149.33,178.37 L149.62,179.11 L149.92,179.85 L150.22,180.6 L150.53,181.33 L150.86,182.06 L151.23,182.77 L151.63,183.46 L152.04,184.15 L152.46,184.83 L152.9,185.49 L153.39,186.12 L153.92,186.72 L154.46,187.31 L155.02,187.89 L155.58,188.46 L156.16,189 L156.76,189.53 L157.38,190.05 L158,190.55 L158.62,191.05 L159.26,191.5 L159.95,191.85 L160.69,192.07 L161.47,192.2 L162.26,192.3 L163.06,192.39 L163.85,192.48 L164.65,192.57 L165.45,192.66 L166.24,192.75 L167.04,192.84 L167.83,192.92 L168.63,193 L169.43,193.06 L170.23,193.11 L171.03,193.15 L171.83,193.18 L172.63,193.21 L173.43,193.25 L174.23,193.28 L175.03,193.31 L175.83,193.35 L176.63,193.38 L177.43,193.41 L178.23,193.44 L179.03,193.48 L179.83,193.51 L180.63,193.54 L181.43,193.57 L182.24,193.61 L183.04,193.64 L183.84,193.67 L184.64,193.71 L185.44,193.74 L186.24,193.77 L187.04,193.8 L187.84,193.84 L188.64,193.87 L189.44,193.9 L190.24,193.94 L191.04,193.97 L191.84,194 L192.64,194.03 L193.44,194.07 L194.24,194.1 L195.04,194.13 L195.84,194.16 L196.64,194.18 L197.45,194.21 L198.25,194.24 L199.05,194.27 L199.85,194.29 L200.65,194.32 L201.45,194.35 L202.25,194.37 L203.05,194.4 L203.85,194.43 L204.65,194.46 L205.45,194.48 L206.25,194.51 L207.05,194.54 L207.85,194.57 L208.65,194.59 L209.46,194.62 L210.26,194.65 L211.06,194.68 L211.86,194.7 L212.66,194.73 L213.46,194.76 L214.26,194.78 L215.06,194.81 L215.86,194.84 L216.66,194.87 L217.46,194.89 L218.26,194.92 L219.06,194.95 L219.86,194.98 L220.67,195 L221.47,195.03 L222.27,195.06 L223.07,195.08 L223.87,195.11 L224.67,195.14 L225.47,195.17 L226.27,195.19 L227.07,195.22 L227.87,195.25 L228.67,195.28 L229.47,195.3 L230.27,195.33 L231.07,195.36 L231.87,195.39 L232.68,195.41 L233.48,195.44 L234.28,195.47 L235.08,195.49 L235.88,195.52 L236.68,195.55 L237.48,195.58 L238.28,195.6 L239.08,195.63 L239.88,195.65 L240.68,195.67 L241.48,195.68 L242.28,195.69 L243.09,195.69 L243.89,195.69 L244.69,195.7 L245.49,195.7 L246.29,195.7 L247.09,195.7 L247.89,195.7 L248.69,195.71 L249.5,195.71 L250.3,195.71 L251.1,195.71 L251.9,195.71 L252.7,195.72 L253.5,195.72 L254.3,195.72 L255.1,195.72 L255.9,195.73 L256.71,195.73 L257.51,195.73 L258.31,195.73 L259.11,195.73 L259.91,195.74 L260.71,195.74 L261.51,195.74 L262.31,195.74 L263.11,195.74 L263.92,195.75 L264.72,195.75 L265.52,195.75 L266.32,195.75 L267.12,195.76 L267.92,195.76 L268.72,195.76 L269.52,195.76 L270.33,195.76 L271.13,195.77 L271.93,195.77 L272.73,195.77 L273.53,195.77 L274.33,195.77 L275.13,195.78 L275.93,195.78 L276.73,195.78 L277.54,195.78 L278.34,195.79 L279.14,195.79 L279.94,195.79 L280.74,195.79 L281.54,195.79 L282.34,195.8 L283.14,195.8 L283.94,195.8 L284.75,195.8 L285.55,195.8 L286.35,195.81 L287.15,195.81 L287.95,195.81 L288.75,195.81 L289.55,195.81 L290.35,195.82 L291.16,195.82 L291.96,195.82 L292.76,195.82 L293.56,195.82 L294.36,195.83 L295.16,195.83 L295.96,195.83 L296.76,195.83 L297.56,195.83 L298.37,195.83 L299.17,195.84 L299.97,195.84 L300.77,195.84 L301.57,195.84 L302.37,195.84 L303.17,195.85 L303.97,195.85 L304.77,195.85 L305.58,195.85 L306.38,195.85 L307.18,195.86 L307.98,195.86 L308.78,195.86 L309.58,195.86 L310.38,195.86 L311.18,195.87 L311.99,195.87 L312.79,195.87 L313.59,195.87 L314.39,195.87 L315.19,195.88 L315.99,195.88 L316.79,195.88 L317.59,195.88 L318.39,195.88 L319.2,195.89 L320,195.89 L320.8,195.89 L321.6,195.89 L322.4,195.89" stroke="#3ee8ee" stroke-width="1.25" fill="none" stroke-linejoin="round" stroke-linecap="round"/>
<path d="M67,72.37 L67.7,71.98 L68.39,71.58 L69.09,71.18 L69.78,70.78 L70.48,70.38 L71.17,69.98 L71.87,69.59 L72.57,69.21 L73.29,68.87 L74.04,68.58 L74.8,68.35 L75.57,68.14 L76.35,67.93 L77.12,67.72 L77.89,67.51 L78.67,67.31 L79.44,67.1 L80.22,66.89 L80.99,66.69 L81.77,66.49 L82.55,66.34 L83.33,66.26 L84.12,66.28 L84.91,66.36 L85.7,66.47 L86.49,66.58 L87.29,66.7 L88.08,66.81 L88.87,66.92 L89.67,67 L90.46,67.02 L91.25,66.96 L92.04,66.85 L92.83,66.71 L93.62,66.57 L94.41,66.43 L95.19,66.28 L95.98,66.14 L96.77,66 L97.56,65.85 L98.35,65.71 L99.14,65.58 L99.93,65.47 L100.73,65.4 L101.53,65.37 L102.33,65.35 L103.13,65.34 L103.93,65.33 L104.73,65.32 L105.53,65.31 L106.34,65.31 L107.14,65.3 L107.94,65.29 L108.74,65.28 L109.54,65.28 L110.34,65.29 L111.15,65.31 L111.95,65.33 L112.74,65.38 L113.52,65.48 L114.28,65.69 L115.01,65.99 L115.73,66.33 L116.45,66.69 L117.16,67.05 L117.88,67.41 L118.58,67.78 L119.27,68.19 L119.91,68.66 L120.5,69.18 L121.07,69.74 L121.64,70.31 L122.2,70.88 L122.76,71.45 L123.32,72.02 L123.89,72.6 L124.44,73.17 L124.99,73.76 L125.5,74.37 L125.99,75 L126.47,75.65 L126.93,76.3 L127.4,76.95 L127.85,77.61 L128.29,78.28 L128.72,78.96 L129.14,79.64 L129.55,80.33 L129.94,81.03 L130.27,81.75 L130.54,82.5 L130.78,83.26 L131.02,84.03 L131.25,84.79 L131.48,85.56 L131.72,86.33 L131.95,87.1 L132.18,87.86 L132.4,88.63 L132.61,89.41 L132.81,90.18 L133.01,90.96 L133.19,91.74 L133.38,92.52 L133.57,93.3 L133.76,94.08 L133.95,94.86 L134.14,95.64 L134.33,96.41 L134.52,97.19 L134.71,97.97 L134.9,98.75 L135.08,99.53 L135.25,100.31 L135.42,101.1 L135.58,101.88 L135.74,102.67 L135.9,103.45 L136.06,104.24 L136.22,105.03 L136.38,105.81 L136.54,106.6 L136.7,107.38 L136.86,108.17 L137.01,108.96 L137.15,109.75 L137.28,110.54 L137.41,111.33 L137.54,112.12 L137.67,112.91 L137.8,113.7 L137.93,114.49 L138.06,115.28 L138.19,116.07 L138.32,116.87 L138.45,117.66 L138.57,118.45 L138.7,119.24 L138.83,120.03 L138.96,120.82 L139.09,121.61 L139.22,122.4 L139.35,123.2 L139.48,123.99 L139.61,124.78 L139.74,125.57 L139.87,126.36 L140,127.15 L140.13,127.94 L140.26,128.73 L140.39,129.52 L140.53,130.31 L140.66,131.11 L140.79,131.9 L140.92,132.69 L141.05,133.48 L141.18,134.27 L141.31,135.06 L141.44,135.85 L141.58,136.64 L141.71,137.43 L141.84,138.22 L141.97,139.01 L142.09,139.81 L142.21,140.6 L142.32,141.39 L142.43,142.19 L142.54,142.98 L142.65,143.78 L142.76,144.57 L142.87,145.36 L142.98,146.16 L143.09,146.95 L143.2,147.75 L143.31,148.54 L143.42,149.34 L143.53,150.13 L143.64,150.92 L143.75,151.72 L143.86,152.51 L143.97,153.31 L144.08,154.1 L144.19,154.89 L144.31,155.69 L144.42,156.48 L144.54,157.27 L144.65,158.07 L144.77,158.86 L144.88,159.65 L145,160.45 L145.12,161.24 L145.23,162.03 L145.35,162.83 L145.46,163.62 L145.58,164.41 L145.69,165.21 L145.81,166 L145.92,166.79 L146.04,167.59 L146.17,168.38 L146.32,169.17 L146.47,169.95 L146.63,170.74 L146.79,171.52 L146.95,172.31 L147.11,173.1 L147.27,173.88 L147.43,174.67 L147.59,175.45 L147.75,176.24 L147.91,177.02 L148.07,177.81 L148.23,178.59 L148.39,179.38 L148.56,180.16 L148.75,180.94 L148.98,181.71 L149.23,182.47 L149.49,183.23 L149.75,183.98 L150.01,184.74 L150.28,185.5 L150.54,186.25 L150.82,187 L151.14,187.72 L151.54,188.39 L152.04,188.99 L152.61,189.54 L153.2,190.08 L153.8,190.61 L154.39,191.15 L155,191.67 L155.62,192.18 L156.26,192.64 L156.94,193.06 L157.64,193.46 L158.34,193.84 L159.06,194.19 L159.79,194.46 L160.56,194.64 L161.34,194.73 L162.14,194.8 L162.94,194.85 L163.74,194.9 L164.54,194.96 L165.34,195.01 L166.14,195.06 L166.94,195.12 L167.74,195.17 L168.54,195.22 L169.34,195.26 L170.14,195.3 L170.94,195.33 L171.74,195.36 L172.54,195.39 L173.35,195.42 L174.15,195.45 L174.95,195.48 L175.75,195.51 L176.55,195.54 L177.35,195.57 L178.15,195.6 L178.95,195.63 L179.75,195.66 L180.56,195.69 L181.36,195.72 L182.16,195.75 L182.96,195.78 L183.76,195.8 L184.56,195.83 L185.36,195.86 L186.16,195.89 L186.96,195.92 L187.77,195.95 L188.57,195.98 L189.37,196.01 L190.17,196.04 L190.97,196.07 L191.77,196.1 L192.57,196.13 L193.37,196.16 L194.18,196.19 L194.98,196.22 L195.78,196.25 L196.58,196.29 L197.38,196.32 L198.18,196.36 L198.98,196.39 L199.78,196.43 L200.58,196.46 L201.38,196.5 L202.19,196.53 L202.99,196.57 L203.79,196.6 L204.59,196.63 L205.39,196.67 L206.19,196.7 L206.99,196.74 L207.79,196.77 L208.59,196.81 L209.39,196.84 L210.19,196.88 L211,196.91 L211.8,196.95 L212.6,196.98 L213.4,197.02 L214.2,197.05 L215,197.08 L215.8,197.12 L216.6,197.15 L217.4,197.19 L218.2,197.22 L219.01,197.26 L219.81,197.29 L220.61,197.33 L221.41,197.36 L222.21,197.4 L223.01,197.43 L223.81,197.46 L224.61,197.5 L225.41,197.53 L226.21,197.57 L227.01,197.6 L227.82,197.64 L228.62,197.67 L229.42,197.71 L230.22,197.74 L231.02,197.78 L231.82,197.81 L232.62,197.85 L233.42,197.88 L234.22,197.91 L235.02,197.95 L235.83,197.98 L236.63,198.02 L237.43,198.05 L238.23,198.09 L239.03,198.12 L239.83,198.15 L240.63,198.18 L241.43,198.2 L242.23,198.22 L243.04,198.23 L243.84,198.24 L244.64,198.26 L245.44,198.27 L246.24,198.28 L247.04,198.3 L247.85,198.31 L248.65,198.32 L249.45,198.33 L250.25,198.35 L251.05,198.36 L251.85,198.37 L252.66,198.38 L253.46,198.4 L254.26,198.41 L255.06,198.42 L255.86,198.44 L256.66,198.45 L257.46,198.46 L258.27,198.47 L259.07,198.49 L259.87,198.5 L260.67,198.51 L261.47,198.53 L262.27,198.54 L263.08,198.55 L263.88,198.56 L264.68,198.58 L265.48,198.59 L266.28,198.6 L267.08,198.62 L267.89,198.63 L268.69,198.64 L269.49,198.65 L270.29,198.67 L271.09,198.68 L271.89,198.69 L272.7,198.71 L273.5,198.72 L274.3,198.73 L275.1,198.74 L275.9,198.76 L276.7,198.77 L277.51,198.78 L278.31,198.8 L279.11,198.81 L279.91,198.82 L280.71,198.82 L281.51,198.83 L282.32,198.83 L283.12,198.84 L283.92,198.84 L284.72,198.84 L285.52,198.85 L286.32,198.85 L287.13,198.86 L287.93,198.86 L288.73,198.86 L289.53,198.87 L290.33,198.87 L291.13,198.88 L291.94,198.88 L292.74,198.88 L293.54,198.89 L294.34,198.89 L295.14,198.9 L295.94,198.9 L296.75,198.9 L297.55,198.91 L298.35,198.91 L299.15,198.91 L299.95,198.92 L300.75,198.92 L301.56,198.93 L302.36,198.93 L303.16,198.93 L303.96,198.94 L304.76,198.94 L305.56,198.95 L306.37,198.95 L307.17,198.95 L307.97,198.96 L308.77,198.96 L309.57,198.97 L310.37,198.97 L311.18,198.97 L311.98,198.98 L312.78,198.98 L313.58,198.99 L314.38,198.99 L315.18,198.99 L315.99,199 L316.79,199 L317.59,199.01 L318.39,199.01 L319.19,199.01 L319.99,199.02 L320.8,199.02 L321.6,199.03 L322.4,199.03" stroke="#f06ab0" stroke-width="1.25" fill="none" stroke-linejoin="round" stroke-linecap="round"/>
<line x1="73.7" y1="127.7" x2="94.1" y2="127.7" stroke="#a84ed8" stroke-width="1.4"/>
<text x="97.4" y="131.07" font-size="9" text-anchor="start" fill="#1e1e1e" stroke="#1e1e1e" stroke-width="0.22" font-weight="bold">A-TiO2</text>
<line x1="73.7" y1="139.65" x2="94.1" y2="139.65" stroke="#3fe040" stroke-width="1.4"/>
<text x="97.4" y="143.02" font-size="9" text-anchor="start" fill="#1e1e1e" stroke="#1e1e1e" stroke-width="0.22" font-weight="bold">P25</text>
<line x1="73.7" y1="151.6" x2="94.1" y2="151.6" stroke="#2a2a2a" stroke-width="1.4"/>
<text x="97.4" y="154.97" font-size="9" text-anchor="start" fill="#1e1e1e" stroke="#1e1e1e" stroke-width="0.22" font-weight="bold">ST-300</text>
<line x1="73.7" y1="163.55" x2="94.1" y2="163.55" stroke="#ee2a2a" stroke-width="1.4"/>
<text x="97.4" y="166.92" font-size="9" text-anchor="start" fill="#1e1e1e" stroke="#1e1e1e" stroke-width="0.22" font-weight="bold">ST-400</text>
<line x1="73.7" y1="175.5" x2="94.1" y2="175.5" stroke="#2a2ae8" stroke-width="1.4"/>
<text x="97.4" y="178.87" font-size="9" text-anchor="start" fill="#1e1e1e" stroke="#1e1e1e" stroke-width="0.22" font-weight="bold">ST-500</text>
<line x1="73.7" y1="187.45" x2="94.1" y2="187.45" stroke="#3ee8ee" stroke-width="1.4"/>
<text x="97.4" y="190.82" font-size="9" text-anchor="start" fill="#1e1e1e" stroke="#1e1e1e" stroke-width="0.22" font-weight="bold">ST-600</text>
<line x1="73.7" y1="199.4" x2="94.1" y2="199.4" stroke="#f06ab0" stroke-width="1.4"/>
<text x="97.4" y="202.77" font-size="9" text-anchor="start" fill="#1e1e1e" stroke="#1e1e1e" stroke-width="0.22" font-weight="bold">ST-700</text>
<rect x="171.5" y="33" width="143.1" height="121.8" stroke="#444" stroke-width="1" fill="#fff"/>
<line x1="171.15" y1="154.8" x2="171.15" y2="156.2" stroke="#444" stroke-width="0.8"/>
<line x1="205.3" y1="154.8" x2="205.3" y2="157" stroke="#444" stroke-width="0.8"/>
<line x1="239.45" y1="154.8" x2="239.45" y2="156.2" stroke="#444" stroke-width="0.8"/>
<line x1="273.6" y1="154.8" x2="273.6" y2="157" stroke="#444" stroke-width="0.8"/>
<line x1="307.75" y1="154.8" x2="307.75" y2="156.2" stroke="#444" stroke-width="0.8"/>
<text x="205.3" y="163.78" font-size="5.4" text-anchor="middle" fill="#1e1e1e" stroke="#1e1e1e" stroke-width="0.22" font-weight="bold">400</text>
<text x="273.6" y="163.78" font-size="5.4" text-anchor="middle" fill="#1e1e1e" stroke="#1e1e1e" stroke-width="0.22" font-weight="bold">500</text>
<text x="246.4" y="170.22" font-size="5.5" text-anchor="middle" fill="#1e1e1e" stroke="#1e1e1e" stroke-width="0.22" font-weight="bold">Wavelength (nm)</text>
<clipPath id="ic"><rect x="171.5" y="33" width="143.1" height="121.8"/></clipPath>
<g clip-path="url(#ic)">
<path d="M184,33 C184.25,35 185,40.5 185.5,45 C186,49.5 186.13,52.4 187,60 C187.87,67.6 189.57,82.43 190.7,90.6 C191.83,98.77 192.52,103.65 193.8,109 C195.08,114.35 196.62,119.4 198.4,122.7 C200.18,126 202.47,127.5 204.5,128.8 C206.53,130.1 204.68,130.13 210.6,130.5 C216.52,130.87 230.1,130.9 240,131 C249.9,131.1 261.67,131.1 270,131.1 C278.33,131.1 282.57,131.08 290,131 C297.43,130.92 310.5,130.67 314.6,130.6" stroke="#a84ed8" stroke-width="1.2" fill="none" stroke-linejoin="round" stroke-linecap="round"/>
<path d="M193,33 C193.38,35.17 194.53,41.5 195.3,46 C196.07,50.5 196.33,52.57 197.6,60 C198.87,67.43 201.12,82.95 202.9,90.6 C204.68,98.25 206.5,101.7 208.3,105.9 C210.1,110.1 211.78,113.63 213.7,115.8 C215.62,117.97 216.5,118.2 219.8,118.9 C223.1,119.6 226.8,119.75 233.5,120 C240.2,120.25 250.58,120.4 260,120.4 C269.42,120.4 280.9,120.17 290,120 C299.1,119.83 310.5,119.5 314.6,119.4" stroke="#3fe040" stroke-width="1.2" fill="none" stroke-linejoin="round" stroke-linecap="round"/>
<path d="M193.6,33 C194,35.17 195.23,41.5 196,46 C196.77,50.5 197.23,54.33 198.2,60 C199.17,65.67 200.75,74.67 201.8,80 C202.85,85.33 203.42,88.2 204.5,92 C205.58,95.8 206.52,99.72 208.3,102.8 C210.08,105.88 212.27,108.72 215.2,110.5 C218.13,112.28 218.43,112.62 225.9,113.5 C233.37,114.38 249.32,115.23 260,115.8 C270.68,116.37 280.9,116.55 290,116.9 C299.1,117.25 310.5,117.73 314.6,117.9" stroke="#f06ab0" stroke-width="1.2" fill="none" stroke-linejoin="round" stroke-linecap="round"/>
<path d="M193.4,33 C193.8,35.17 195.07,41.5 195.8,46 C196.53,50.5 196.62,53.25 197.8,60 C198.98,66.75 201.28,80.33 202.9,86.5 C204.52,92.67 205.98,94.45 207.5,97 C209.02,99.55 210.25,100.5 212,101.8 C213.75,103.1 215.68,103.9 218,104.8 C220.32,105.7 218.9,106.25 225.9,107.2 C232.9,108.15 249.32,109.67 260,110.5 C270.68,111.33 280.9,111.7 290,112.2 C299.1,112.7 310.5,113.28 314.6,113.5" stroke="#3ee8ee" stroke-width="1.2" fill="none" stroke-linejoin="round" stroke-linecap="round"/>
<path d="M193.4,33 C193.77,35.17 195,41.5 195.6,46 C196.2,50.5 195.77,53.17 197,60 C198.23,66.83 201.22,80.58 203,87 C204.78,93.42 205.67,95.53 207.7,98.5 C209.73,101.47 212.17,103.23 215.2,104.8 C218.23,106.37 218.43,106.87 225.9,107.9 C233.37,108.93 249.32,110.15 260,111 C270.68,111.85 280.9,112.4 290,113 C299.1,113.6 310.5,114.33 314.6,114.6" stroke="#2a2a2a" stroke-width="1.2" fill="none" stroke-linejoin="round" stroke-linecap="round"/>
<path d="M193.2,33 C193.57,35.17 194.8,41.5 195.4,46 C196,50.5 195.55,53.08 196.8,60 C198.05,66.92 201.12,81 202.9,87.5 C204.68,94 205.45,96.07 207.5,99 C209.55,101.93 212.13,103.57 215.2,105.1 C218.27,106.63 218.43,107.18 225.9,108.2 C233.37,109.22 249.32,110.37 260,111.2 C270.68,112.03 280.9,112.6 290,113.2 C299.1,113.8 310.5,114.53 314.6,114.8" stroke="#2a2ae8" stroke-width="1.2" fill="none" stroke-linejoin="round" stroke-linecap="round"/>
<path d="M194.6,33 C194.97,35.17 196.13,41.5 196.8,46 C197.47,50.5 197.32,53.83 198.6,60 C199.88,66.17 202.5,77.52 204.5,83 C206.5,88.48 208.05,90.23 210.6,92.9 C213.15,95.57 215.98,97.47 219.8,99 C223.62,100.53 226.8,101.2 233.5,102.1 C240.2,103 251.85,103.8 260,104.4 C268.15,105 273.3,105.13 282.4,105.7 C291.5,106.27 309.23,107.45 314.6,107.8" stroke="#ee2a2a" stroke-width="1.2" fill="none" stroke-linejoin="round" stroke-linecap="round"/>
</g>
<line x1="203.7" y1="138" x2="232.67" y2="84.16" stroke="#1a1a1a" stroke-width="1"/>
<polygon points="234.8,80.2 233.96,85.99 230.43,84.1" fill="#1a1a1a"/>
<text x="341.5" y="35.9" font-size="18" text-anchor="start" fill="#1e1e1e" stroke="#1e1e1e" stroke-width="0.22" font-weight="bold">(b)</text>
<rect x="387.3" y="25.7" width="259.5" height="190.8" stroke="#3a3a3a" stroke-width="1.3" fill="none"/>
<line x1="383.3" y1="193.4" x2="387.3" y2="193.4" stroke="#3a3a3a" stroke-width="1"/>
<text x="380.8" y="195.94" font-size="7.7" text-anchor="end" fill="#1e1e1e" stroke="#1e1e1e" stroke-width="0.22" font-weight="bold">0</text>
<line x1="383.3" y1="169.5" x2="387.3" y2="169.5" stroke="#3a3a3a" stroke-width="1"/>
<text x="380.8" y="172.04" font-size="7.7" text-anchor="end" fill="#1e1e1e" stroke="#1e1e1e" stroke-width="0.22" font-weight="bold">5</text>
<line x1="383.3" y1="145.6" x2="387.3" y2="145.6" stroke="#3a3a3a" stroke-width="1"/>
<text x="380.8" y="148.14" font-size="7.7" text-anchor="end" fill="#1e1e1e" stroke="#1e1e1e" stroke-width="0.22" font-weight="bold">10</text>
<line x1="383.3" y1="121.7" x2="387.3" y2="121.7" stroke="#3a3a3a" stroke-width="1"/>
<text x="380.8" y="124.24" font-size="7.7" text-anchor="end" fill="#1e1e1e" stroke="#1e1e1e" stroke-width="0.22" font-weight="bold">15</text>
<line x1="383.3" y1="97.8" x2="387.3" y2="97.8" stroke="#3a3a3a" stroke-width="1"/>
<text x="380.8" y="100.34" font-size="7.7" text-anchor="end" fill="#1e1e1e" stroke="#1e1e1e" stroke-width="0.22" font-weight="bold">20</text>
<line x1="383.3" y1="73.9" x2="387.3" y2="73.9" stroke="#3a3a3a" stroke-width="1"/>
<text x="380.8" y="76.44" font-size="7.7" text-anchor="end" fill="#1e1e1e" stroke="#1e1e1e" stroke-width="0.22" font-weight="bold">25</text>
<line x1="383.3" y1="50" x2="387.3" y2="50" stroke="#3a3a3a" stroke-width="1"/>
<text x="380.8" y="52.54" font-size="7.7" text-anchor="end" fill="#1e1e1e" stroke="#1e1e1e" stroke-width="0.22" font-weight="bold">30</text>
<line x1="383.3" y1="26.1" x2="387.3" y2="26.1" stroke="#3a3a3a" stroke-width="1"/>
<text x="380.8" y="28.64" font-size="7.7" text-anchor="end" fill="#1e1e1e" stroke="#1e1e1e" stroke-width="0.22" font-weight="bold">35</text>
<line x1="415.9" y1="216.5" x2="415.9" y2="220.5" stroke="#3a3a3a" stroke-width="1"/>
<text x="415.9" y="229.51" font-size="7.6" text-anchor="middle" fill="#1e1e1e" stroke="#1e1e1e" stroke-width="0.22" font-weight="bold">3.2</text>
<line x1="444.8" y1="216.5" x2="444.8" y2="218.7" stroke="#3a3a3a" stroke-width="0.9"/>
<line x1="473.7" y1="216.5" x2="473.7" y2="220.5" stroke="#3a3a3a" stroke-width="1"/>
<text x="473.7" y="229.51" font-size="7.6" text-anchor="middle" fill="#1e1e1e" stroke="#1e1e1e" stroke-width="0.22" font-weight="bold">3.4</text>
<line x1="502.6" y1="216.5" x2="502.6" y2="218.7" stroke="#3a3a3a" stroke-width="0.9"/>
<line x1="531.5" y1="216.5" x2="531.5" y2="220.5" stroke="#3a3a3a" stroke-width="1"/>
<text x="531.5" y="229.51" font-size="7.6" text-anchor="middle" fill="#1e1e1e" stroke="#1e1e1e" stroke-width="0.22" font-weight="bold">3.6</text>
<line x1="560.4" y1="216.5" x2="560.4" y2="218.7" stroke="#3a3a3a" stroke-width="0.9"/>
<line x1="589.3" y1="216.5" x2="589.3" y2="220.5" stroke="#3a3a3a" stroke-width="1"/>
<text x="589.3" y="229.51" font-size="7.6" text-anchor="middle" fill="#1e1e1e" stroke="#1e1e1e" stroke-width="0.22" font-weight="bold">3.8</text>
<line x1="618.2" y1="216.5" x2="618.2" y2="218.7" stroke="#3a3a3a" stroke-width="0.9"/>
<line x1="647.1" y1="216.5" x2="647.1" y2="220.5" stroke="#3a3a3a" stroke-width="1"/>
<text x="647.1" y="229.51" font-size="7.6" text-anchor="middle" fill="#1e1e1e" stroke="#1e1e1e" stroke-width="0.22" font-weight="bold">4.0</text>
<text x="516.4" y="240.7" font-size="9.4" text-anchor="middle" fill="#1e1e1e" stroke="#1e1e1e" stroke-width="0.22" font-weight="bold">Bandgap energy (eV)</text>
<text x="364.2" y="126.67" font-size="9.3" text-anchor="middle" fill="#1e1e1e" stroke="#1e1e1e" stroke-width="0.22" font-weight="bold" transform="rotate(-90 364.2 123.6)">(&#945;hv)<tspan font-size="6" dy="-3.8">2</tspan></text>
<line x1="388.3" y1="193.4" x2="645.8" y2="193.4" stroke="#aaaaaa" stroke-width="0.9" stroke-dasharray="1,2.2"/>
<clipPath id="bc"><rect x="387.3" y="25.7" width="259.5" height="190.8"/></clipPath>
<g clip-path="url(#bc)">
<path d="M387.3,192.9 L388.1,192.9 L388.9,192.89 L389.71,192.89 L390.51,192.89 L391.31,192.88 L392.11,192.88 L392.91,192.88 L393.72,192.87 L394.52,192.87 L395.32,192.86 L396.12,192.86 L396.92,192.86 L397.73,192.85 L398.53,192.85 L399.33,192.85 L400.13,192.84 L400.93,192.84 L401.74,192.84 L402.54,192.83 L403.34,192.83 L404.14,192.83 L404.94,192.82 L405.75,192.82 L406.55,192.81 L407.35,192.81 L408.15,192.8 L408.95,192.8 L409.76,192.79 L410.56,192.77 L411.36,192.76 L412.16,192.74 L412.96,192.72 L413.76,192.71 L414.57,192.69 L415.37,192.67 L416.17,192.65 L416.97,192.63 L417.77,192.61 L418.58,192.59 L419.38,192.57 L420.18,192.55 L420.98,192.53 L421.78,192.51 L422.58,192.49 L423.39,192.47 L424.19,192.45 L424.99,192.43 L425.79,192.4 L426.59,192.38 L427.39,192.36 L428.2,192.33 L429,192.3 L429.8,192.26 L430.6,192.2 L431.4,192.15 L432.2,192.08 L432.99,192.01 L433.79,191.93 L434.59,191.86 L435.39,191.78 L436.19,191.71 L436.99,191.63 L437.78,191.55 L438.58,191.47 L439.38,191.39 L440.18,191.31 L440.97,191.22 L441.77,191.11 L442.56,190.99 L443.35,190.86 L444.13,190.71 L444.92,190.55 L445.7,190.39 L446.49,190.22 L447.27,190.04 L448.05,189.87 L448.84,189.7 L449.62,189.52 L450.4,189.34 L451.18,189.15 L451.95,188.95 L452.72,188.73 L453.49,188.5 L454.25,188.25 L455.01,187.99 L455.76,187.71 L456.51,187.44 L457.26,187.15 L458.01,186.86 L458.75,186.56 L459.49,186.25 L460.22,185.93 L460.94,185.58 L461.65,185.21 L462.35,184.83 L463.05,184.44 L463.74,184.04 L464.43,183.63 L465.12,183.22 L465.81,182.81 L466.49,182.39 L467.17,181.96 L467.84,181.52 L468.5,181.07 L469.15,180.61 L469.8,180.13 L470.43,179.65 L471.07,179.16 L471.7,178.67 L472.34,178.18 L472.97,177.68 L473.6,177.19 L474.23,176.69 L474.86,176.2 L475.49,175.7 L476.11,175.2 L476.74,174.69 L477.36,174.18 L477.98,173.67 L478.6,173.16 L479.21,172.65 L479.83,172.14 L480.45,171.63 L481.07,171.12 L481.68,170.61 L482.3,170.09 L482.92,169.58 L483.54,169.07 L484.16,168.56 L484.78,168.06 L485.4,167.55 L486.02,167.04 L486.64,166.53 L487.26,166.02 L487.88,165.51 L488.5,165.01 L489.12,164.5 L489.75,163.99 L490.37,163.49 L490.99,162.98 L491.61,162.48 L492.24,161.97 L492.86,161.47 L493.49,160.97 L494.11,160.46 L494.74,159.96 L495.36,159.46 L495.99,158.96 L496.62,158.46 L497.24,157.96 L497.87,157.46 L498.51,156.97 L499.15,156.49 L499.79,156.01 L500.43,155.53 L501.08,155.06 L501.73,154.58 L502.38,154.11 L503.03,153.64 L503.68,153.17 L504.33,152.7 L504.98,152.23 L505.63,151.76 L506.28,151.29 L506.93,150.82 L507.58,150.35 L508.23,149.88 L508.88,149.41 L509.53,148.94 L510.18,148.48 L510.83,148.01 L511.48,147.54 L512.13,147.07 L512.78,146.6 L513.43,146.13 L514.08,145.66 L514.73,145.19 L515.38,144.73 L516.03,144.26 L516.68,143.79 L517.34,143.32 L517.99,142.86 L518.65,142.4 L519.31,141.95 L519.98,141.5 L520.65,141.07 L521.33,140.64 L522.01,140.23 L522.7,139.81 L523.39,139.4 L524.08,138.99 L524.77,138.59 L525.46,138.18 L526.15,137.77 L526.84,137.36 L527.53,136.96 L528.22,136.55 L528.91,136.14 L529.61,135.74 L530.3,135.33 L530.99,134.92 L531.68,134.51 L532.37,134.11 L533.06,133.71 L533.76,133.31 L534.46,132.92 L535.17,132.55 L535.88,132.19 L536.61,131.85 L537.34,131.53 L538.08,131.21 L538.82,130.91 L539.56,130.61 L540.3,130.3 L541.05,130 L541.79,129.7 L542.53,129.4 L543.28,129.1 L544.02,128.8 L544.77,128.51 L545.51,128.21 L546.26,127.92 L547.01,127.63 L547.76,127.35 L548.51,127.07 L549.27,126.81 L550.03,126.55 L550.79,126.3 L551.55,126.05 L552.31,125.8 L553.07,125.55 L553.84,125.3 L554.6,125.06 L555.36,124.81 L556.12,124.56 L556.89,124.31 L557.65,124.07 L558.42,123.83 L559.18,123.6 L559.95,123.37 L560.72,123.15 L561.5,122.94 L562.27,122.74 L563.05,122.54 L563.83,122.34 L564.6,122.14 L565.38,121.95 L566.16,121.75 L566.94,121.56 L567.72,121.36 L568.49,121.17 L569.27,120.97 L570.05,120.77 L570.83,120.58 L571.6,120.38 L572.38,120.19 L573.16,119.99 L573.94,119.8 L574.72,119.6 L575.49,119.41 L576.27,119.21 L577.05,119.02 L577.83,118.84 L578.61,118.66 L579.39,118.48 L580.18,118.32 L580.96,118.16 L581.75,118.01 L582.54,117.85 L583.33,117.7 L584.12,117.55 L584.9,117.41 L585.69,117.26 L586.48,117.11 L587.27,116.96 L588.06,116.81 L588.84,116.66 L589.63,116.51 L590.42,116.37 L591.21,116.22 L592,116.07 L592.78,115.92 L593.57,115.77 L594.36,115.62 L595.15,115.48 L595.94,115.33 L596.73,115.19 L597.52,115.05 L598.31,114.91 L599.1,114.78 L599.89,114.65 L600.68,114.53 L601.47,114.41 L602.27,114.29 L603.06,114.17 L603.85,114.05 L604.65,113.93 L605.44,113.81 L606.23,113.69 L607.03,113.57 L607.82,113.45 L608.61,113.33 L609.4,113.21 L610.2,113.09 L610.99,112.97 L611.78,112.85 L612.58,112.73 L613.37,112.61 L614.16,112.49 L614.96,112.37 L615.75,112.26 L616.54,112.14 L617.34,112.03 L618.13,111.93 L618.93,111.83 L619.72,111.73 L620.52,111.63 L621.32,111.53 L622.11,111.44 L622.91,111.34 L623.7,111.25 L624.5,111.15 L625.3,111.06 L626.09,110.96 L626.89,110.87 L627.69,110.78 L628.48,110.68 L629.28,110.59 L630.08,110.49 L630.87,110.4 L631.67,110.3 L632.47,110.21 L633.26,110.11 L634.06,110.02 L634.85,109.92 L635.65,109.83 L636.45,109.73 L637.24,109.64 L638.04,109.54 L638.84,109.45 L639.63,109.35 L640.43,109.26 L641.23,109.16 L642.02,109.07 L642.82,108.97 L643.61,108.88 L644.41,108.78 L645.21,108.69 L646,108.59 L646.8,108.5" stroke="#a84ed8" stroke-width="1.25" fill="none" stroke-linejoin="round" stroke-linecap="round"/>
<path d="M387.3,192.7 L388.1,192.63 L388.9,192.56 L389.7,192.49 L390.49,192.42 L391.29,192.35 L392.09,192.29 L392.89,192.22 L393.69,192.15 L394.49,192.08 L395.28,192.01 L396.08,191.94 L396.88,191.87 L397.68,191.8 L398.48,191.72 L399.27,191.64 L400.07,191.56 L400.87,191.46 L401.66,191.37 L402.46,191.27 L403.25,191.16 L404.05,191.06 L404.84,190.95 L405.64,190.85 L406.43,190.74 L407.23,190.64 L408.02,190.53 L408.81,190.42 L409.61,190.32 L410.4,190.21 L411.2,190.1 L411.99,189.99 L412.78,189.88 L413.57,189.75 L414.36,189.61 L415.14,189.46 L415.93,189.28 L416.7,189.09 L417.48,188.89 L418.25,188.68 L419.02,188.47 L419.8,188.26 L420.57,188.04 L421.34,187.82 L422.11,187.61 L422.88,187.39 L423.65,187.18 L424.43,186.96 L425.2,186.74 L425.97,186.53 L426.74,186.31 L427.51,186.09 L428.28,185.86 L429.05,185.63 L429.81,185.39 L430.57,185.13 L431.32,184.87 L432.08,184.59 L432.83,184.32 L433.58,184.03 L434.33,183.75 L435.08,183.47 L435.83,183.19 L436.58,182.92 L437.34,182.65 L438.1,182.4 L438.86,182.15 L439.62,181.91 L440.39,181.67 L441.16,181.44 L441.92,181.21 L442.69,180.98 L443.46,180.75 L444.23,180.52 L444.99,180.29 L445.76,180.06 L446.53,179.83 L447.3,179.6 L448.06,179.36 L448.83,179.13 L449.6,178.9 L450.36,178.66 L451.13,178.42 L451.89,178.18 L452.65,177.93 L453.41,177.67 L454.17,177.4 L454.92,177.13 L455.67,176.85 L456.42,176.57 L457.17,176.29 L457.92,176 L458.67,175.71 L459.41,175.41 L460.15,175.11 L460.88,174.79 L461.61,174.45 L462.33,174.11 L463.05,173.76 L463.77,173.41 L464.49,173.05 L465.21,172.69 L465.92,172.33 L466.63,171.96 L467.34,171.58 L468.04,171.19 L468.73,170.79 L469.41,170.38 L470.09,169.95 L470.77,169.52 L471.44,169.09 L472.12,168.66 L472.79,168.22 L473.46,167.78 L474.13,167.34 L474.79,166.89 L475.45,166.44 L476.11,165.98 L476.76,165.51 L477.4,165.04 L478.04,164.56 L478.68,164.07 L479.32,163.59 L479.96,163.1 L480.6,162.61 L481.23,162.13 L481.87,161.64 L482.5,161.14 L483.12,160.64 L483.75,160.14 L484.37,159.63 L484.98,159.12 L485.59,158.6 L486.2,158.08 L486.81,157.56 L487.42,157.04 L488.03,156.52 L488.64,155.99 L489.24,155.47 L489.85,154.95 L490.45,154.42 L491.06,153.89 L491.65,153.36 L492.25,152.82 L492.84,152.28 L493.43,151.74 L494.02,151.2 L494.61,150.66 L495.2,150.11 L495.79,149.57 L496.38,149.03 L496.98,148.49 L497.57,147.95 L498.17,147.42 L498.77,146.89 L499.38,146.37 L500,145.86 L500.62,145.35 L501.24,144.85 L501.86,144.34 L502.49,143.84 L503.11,143.34 L503.73,142.83 L504.36,142.33 L504.98,141.83 L505.61,141.33 L506.23,140.83 L506.86,140.33 L507.48,139.82 L508.11,139.33 L508.74,138.83 L509.38,138.34 L510.01,137.86 L510.66,137.38 L511.3,136.91 L511.96,136.44 L512.61,135.98 L513.27,135.52 L513.92,135.06 L514.58,134.6 L515.24,134.14 L515.89,133.68 L516.55,133.22 L517.21,132.76 L517.87,132.31 L518.52,131.85 L519.18,131.39 L519.84,130.93 L520.49,130.47 L521.15,130.01 L521.81,129.56 L522.47,129.1 L523.14,128.66 L523.8,128.21 L524.47,127.77 L525.15,127.34 L525.82,126.9 L526.5,126.48 L527.18,126.05 L527.85,125.62 L528.53,125.19 L529.21,124.76 L529.89,124.34 L530.56,123.91 L531.24,123.48 L531.92,123.05 L532.6,122.63 L533.28,122.2 L533.95,121.77 L534.63,121.35 L535.31,120.92 L535.99,120.5 L536.68,120.08 L537.36,119.66 L538.05,119.25 L538.74,118.84 L539.43,118.44 L540.12,118.03 L540.82,117.63 L541.51,117.23 L542.2,116.83 L542.9,116.43 L543.59,116.03 L544.29,115.63 L544.98,115.23 L545.68,114.83 L546.37,114.43 L547.07,114.03 L547.76,113.63 L548.46,113.23 L549.15,112.83 L549.84,112.43 L550.54,112.03 L551.23,111.63 L551.93,111.23 L552.62,110.83 L553.32,110.43 L554.01,110.04 L554.71,109.64 L555.41,109.26 L556.12,108.88 L556.83,108.51 L557.54,108.14 L558.26,107.79 L558.98,107.44 L559.71,107.1 L560.43,106.76 L561.16,106.42 L561.88,106.08 L562.61,105.74 L563.34,105.4 L564.06,105.06 L564.79,104.72 L565.51,104.38 L566.24,104.04 L566.97,103.7 L567.69,103.36 L568.42,103.02 L569.14,102.68 L569.87,102.34 L570.59,102 L571.32,101.66 L572.05,101.32 L572.77,100.98 L573.5,100.64 L574.22,100.3 L574.95,99.96 L575.68,99.62 L576.4,99.29 L577.13,98.95 L577.86,98.61 L578.59,98.28 L579.32,97.96 L580.05,97.64 L580.79,97.33 L581.53,97.03 L582.28,96.73 L583.03,96.44 L583.77,96.15 L584.52,95.86 L585.27,95.57 L586.02,95.29 L586.76,95 L587.51,94.71 L588.26,94.42 L589.01,94.13 L589.76,93.85 L590.51,93.56 L591.25,93.27 L592,92.98 L592.75,92.7 L593.5,92.41 L594.25,92.12 L594.99,91.83 L595.74,91.55 L596.49,91.26 L597.24,90.98 L597.99,90.71 L598.75,90.43 L599.5,90.16 L600.26,89.9 L601.01,89.63 L601.77,89.37 L602.53,89.11 L603.29,88.85 L604.05,88.59 L604.8,88.33 L605.56,88.07 L606.32,87.8 L607.08,87.54 L607.83,87.28 L608.59,87.02 L609.35,86.76 L610.11,86.5 L610.87,86.24 L611.62,85.98 L612.38,85.72 L613.14,85.46 L613.9,85.2 L614.65,84.93 L615.41,84.67 L616.17,84.41 L616.93,84.15 L617.69,83.89 L618.44,83.63 L619.2,83.37 L619.96,83.11 L620.72,82.85 L621.48,82.59 L622.23,82.33 L622.99,82.07 L623.75,81.82 L624.52,81.59 L625.29,81.36 L626.06,81.15 L626.83,80.95 L627.61,80.76 L628.39,80.58 L629.17,80.41 L629.96,80.24 L630.74,80.07 L631.52,79.9 L632.31,79.73 L633.09,79.56 L633.87,79.39 L634.66,79.22 L635.44,79.05 L636.22,78.88 L637.01,78.71 L637.79,78.55 L638.57,78.38 L639.36,78.21 L640.14,78.04 L640.92,77.87 L641.71,77.7 L642.49,77.53 L643.27,77.36 L644.06,77.19 L644.84,77.02 L645.62,76.85 L646.41,76.68 L646.8,76.6" stroke="#3fe040" stroke-width="1.25" fill="none" stroke-linejoin="round" stroke-linecap="round"/>
<path d="M387.3,192.6 L388.09,192.5 L388.89,192.4 L389.68,192.3 L390.48,192.2 L391.27,192.1 L392.07,191.99 L392.86,191.89 L393.66,191.79 L394.45,191.69 L395.25,191.59 L396.04,191.49 L396.84,191.39 L397.63,191.29 L398.43,191.18 L399.22,191.08 L400.01,190.96 L400.81,190.85 L401.6,190.73 L402.39,190.6 L403.18,190.47 L403.97,190.34 L404.76,190.2 L405.55,190.07 L406.34,189.93 L407.13,189.8 L407.92,189.66 L408.71,189.53 L409.5,189.39 L410.29,189.26 L411.08,189.12 L411.87,188.99 L412.66,188.85 L413.45,188.72 L414.24,188.58 L415.03,188.45 L415.82,188.31 L416.61,188.17 L417.4,188.03 L418.18,187.89 L418.97,187.74 L419.75,187.57 L420.53,187.39 L421.31,187.2 L422.08,187 L422.86,186.79 L423.63,186.58 L424.4,186.37 L425.17,186.15 L425.94,185.93 L426.71,185.72 L427.48,185.49 L428.25,185.27 L429.02,185.03 L429.78,184.78 L430.53,184.52 L431.27,184.23 L432.01,183.92 L432.74,183.6 L433.47,183.26 L434.19,182.92 L434.92,182.58 L435.64,182.23 L436.36,181.89 L437.08,181.54 L437.8,181.19 L438.52,180.83 L439.23,180.46 L439.93,180.07 L440.62,179.68 L441.31,179.26 L441.99,178.84 L442.66,178.41 L443.33,177.97 L444,177.53 L444.66,177.08 L445.32,176.63 L445.97,176.16 L446.6,175.68 L447.22,175.18 L447.83,174.66 L448.43,174.13 L449.02,173.59 L449.61,173.04 L450.19,172.49 L450.77,171.94 L451.36,171.39 L451.94,170.84 L452.51,170.28 L453.08,169.72 L453.64,169.15 L454.2,168.57 L454.74,167.99 L455.27,167.39 L455.8,166.79 L456.33,166.19 L456.85,165.58 L457.38,164.97 L457.9,164.37 L458.42,163.76 L458.94,163.15 L459.47,162.54 L459.99,161.94 L460.51,161.33 L461.03,160.72 L461.55,160.11 L462.06,159.49 L462.57,158.87 L463.08,158.25 L463.58,157.63 L464.07,157 L464.57,156.37 L465.06,155.74 L465.55,155.1 L466.04,154.47 L466.54,153.84 L467.03,153.21 L467.52,152.57 L468.01,151.94 L468.5,151.31 L468.99,150.67 L469.48,150.04 L469.97,149.4 L470.45,148.76 L470.93,148.12 L471.4,147.47 L471.87,146.83 L472.35,146.18 L472.82,145.53 L473.29,144.88 L473.76,144.24 L474.23,143.59 L474.7,142.94 L475.17,142.29 L475.64,141.64 L476.11,140.99 L476.58,140.34 L477.04,139.69 L477.51,139.04 L477.97,138.38 L478.44,137.73 L478.9,137.08 L479.37,136.42 L479.83,135.77 L480.29,135.12 L480.75,134.46 L481.21,133.8 L481.66,133.14 L482.11,132.48 L482.56,131.81 L483,131.14 L483.44,130.47 L483.88,129.8 L484.31,129.13 L484.75,128.46 L485.19,127.79 L485.62,127.12 L486.06,126.44 L486.49,125.77 L486.93,125.1 L487.36,124.43 L487.8,123.75 L488.23,123.08 L488.66,122.4 L489.09,121.73 L489.53,121.05 L489.96,120.38 L490.39,119.7 L490.82,119.03 L491.25,118.35 L491.69,117.68 L492.12,117.01 L492.56,116.34 L493.01,115.67 L493.46,115.01 L493.91,114.35 L494.38,113.7 L494.85,113.05 L495.32,112.4 L495.79,111.75 L496.27,111.11 L496.74,110.46 L497.22,109.82 L497.69,109.17 L498.17,108.53 L498.64,107.88 L499.12,107.24 L499.59,106.59 L500.07,105.95 L500.56,105.31 L501.04,104.68 L501.54,104.05 L502.04,103.43 L502.56,102.81 L503.07,102.2 L503.6,101.59 L504.12,100.99 L504.64,100.38 L505.17,99.78 L505.7,99.17 L506.22,98.57 L506.75,97.97 L507.28,97.37 L507.82,96.78 L508.37,96.19 L508.92,95.62 L509.49,95.06 L510.07,94.51 L510.66,93.96 L511.25,93.43 L511.85,92.89 L512.45,92.36 L513.05,91.83 L513.65,91.29 L514.25,90.76 L514.85,90.24 L515.46,89.72 L516.08,89.21 L516.7,88.71 L517.34,88.23 L517.99,87.77 L518.65,87.32 L519.32,86.88 L519.99,86.45 L520.67,86.01 L521.34,85.58 L522.02,85.16 L522.7,84.73 L523.37,84.3 L524.05,83.87 L524.73,83.44 L525.41,83.01 L526.08,82.58 L526.76,82.15 L527.44,81.73 L528.12,81.3 L528.79,80.88 L529.48,80.46 L530.16,80.04 L530.85,79.63 L531.54,79.22 L532.23,78.81 L532.92,78.41 L533.61,78.01 L534.3,77.6 L535,77.2 L535.69,76.8 L536.38,76.4 L537.08,76 L537.77,75.59 L538.46,75.19 L539.16,74.79 L539.85,74.4 L540.55,74 L541.25,73.6 L541.94,73.21 L542.64,72.81 L543.34,72.42 L544.04,72.03 L544.74,71.64 L545.44,71.24 L546.13,70.85 L546.83,70.46 L547.53,70.06 L548.23,69.67 L548.93,69.28 L549.63,68.89 L550.32,68.49 L551.02,68.1 L551.72,67.71 L552.42,67.32 L553.12,66.92 L553.82,66.53 L554.52,66.15 L555.22,65.76 L555.93,65.39 L556.64,65.02 L557.35,64.65 L558.07,64.29 L558.79,63.94 L559.5,63.58 L560.22,63.23 L560.94,62.87 L561.66,62.52 L562.38,62.17 L563.1,61.81 L563.82,61.46 L564.54,61.11 L565.26,60.75 L565.98,60.4 L566.7,60.05 L567.41,59.69 L568.13,59.34 L568.85,58.99 L569.57,58.64 L570.29,58.29 L571.02,57.94 L571.74,57.6 L572.47,57.26 L573.2,56.94 L573.93,56.62 L574.67,56.31 L575.41,56.01 L576.16,55.71 L576.9,55.41 L577.65,55.12 L578.39,54.82 L579.14,54.53 L579.88,54.23 L580.63,53.94 L581.37,53.64 L582.12,53.35 L582.86,53.05 L583.61,52.76 L584.35,52.46 L585.1,52.17 L585.84,51.87 L586.59,51.58 L587.33,51.29 L588.08,51 L588.83,50.71 L589.58,50.43 L590.33,50.15 L591.08,49.88 L591.84,49.61 L592.59,49.34 L593.35,49.08 L594.1,48.81 L594.86,48.55 L595.62,48.28 L596.37,48.01 L597.13,47.75 L597.88,47.48 L598.64,47.22 L599.4,46.95 L600.15,46.69 L600.91,46.42 L601.66,46.15 L602.42,45.89 L603.18,45.63 L603.93,45.36 L604.69,45.11 L605.45,44.85 L606.21,44.61 L606.98,44.37 L607.74,44.13 L608.51,43.9 L609.28,43.67 L610.05,43.44 L610.81,43.21 L611.58,42.98 L612.35,42.76 L613.12,42.53 L613.89,42.3 L614.65,42.07 L615.42,41.84 L616.19,41.62 L616.96,41.39 L617.73,41.16 L618.49,40.93 L619.26,40.7 L620.03,40.48 L620.8,40.25 L621.57,40.02 L622.34,39.79 L623.1,39.57 L623.88,39.35 L624.65,39.13 L625.42,38.92 L626.19,38.72 L626.97,38.52 L627.75,38.32 L628.52,38.13 L629.3,37.93 L630.08,37.74 L630.86,37.55 L631.63,37.36 L632.41,37.16 L633.19,36.97 L633.97,36.78 L634.75,36.59 L635.52,36.39 L636.3,36.2 L637.08,36.01 L637.86,35.82 L638.63,35.62 L639.41,35.43 L640.19,35.24 L640.97,35.04 L641.74,34.85 L642.52,34.66 L643.3,34.47 L644.08,34.27 L644.86,34.08 L645.63,33.89 L646.41,33.7 L646.8,33.6" stroke="#3ee8ee" stroke-width="1.25" fill="none" stroke-linejoin="round" stroke-linecap="round"/>
<path d="M387.3,192.5 L388.09,192.39 L388.89,192.29 L389.68,192.18 L390.48,192.07 L391.27,191.97 L392.07,191.86 L392.86,191.75 L393.66,191.65 L394.45,191.54 L395.24,191.43 L396.04,191.33 L396.83,191.22 L397.63,191.11 L398.42,191 L399.21,190.89 L400.01,190.77 L400.8,190.65 L401.59,190.52 L402.38,190.39 L403.17,190.25 L403.96,190.11 L404.75,189.97 L405.54,189.82 L406.33,189.68 L407.11,189.54 L407.9,189.39 L408.69,189.25 L409.48,189.1 L410.26,188.95 L411.05,188.79 L411.83,188.62 L412.62,188.45 L413.4,188.27 L414.18,188.09 L414.96,187.9 L415.74,187.72 L416.52,187.53 L417.3,187.34 L418.07,187.15 L418.85,186.95 L419.62,186.74 L420.4,186.53 L421.16,186.3 L421.93,186.07 L422.7,185.84 L423.46,185.6 L424.23,185.36 L424.99,185.11 L425.75,184.87 L426.52,184.63 L427.28,184.38 L428.04,184.13 L428.8,183.88 L429.56,183.62 L430.31,183.34 L431.06,183.06 L431.8,182.75 L432.53,182.44 L433.27,182.12 L434,181.79 L434.73,181.46 L435.46,181.12 L436.19,180.79 L436.91,180.45 L437.64,180.11 L438.35,179.76 L439.06,179.39 L439.76,179.01 L440.45,178.6 L441.12,178.17 L441.79,177.73 L442.44,177.27 L443.09,176.8 L443.74,176.33 L444.38,175.85 L445.02,175.37 L445.65,174.87 L446.26,174.36 L446.86,173.84 L447.44,173.29 L448.01,172.73 L448.57,172.16 L449.12,171.58 L449.67,170.99 L450.21,170.4 L450.75,169.81 L451.3,169.23 L451.84,168.63 L452.38,168.04 L452.91,167.45 L453.44,166.85 L453.97,166.24 L454.48,165.62 L454.99,165 L455.49,164.38 L455.99,163.75 L456.48,163.12 L456.98,162.49 L457.47,161.86 L457.97,161.23 L458.46,160.6 L458.95,159.97 L459.45,159.33 L459.94,158.7 L460.43,158.07 L460.93,157.44 L461.42,156.8 L461.91,156.17 L462.4,155.53 L462.88,154.9 L463.36,154.26 L463.84,153.61 L464.32,152.97 L464.8,152.33 L465.28,151.68 L465.75,151.04 L466.23,150.4 L466.71,149.75 L467.18,149.11 L467.66,148.46 L468.14,147.82 L468.61,147.17 L469.09,146.53 L469.56,145.88 L470.03,145.23 L470.49,144.58 L470.96,143.92 L471.41,143.26 L471.87,142.61 L472.32,141.95 L472.78,141.28 L473.23,140.62 L473.68,139.96 L474.14,139.3 L474.59,138.64 L475.04,137.98 L475.5,137.32 L475.95,136.65 L476.4,135.99 L476.85,135.33 L477.3,134.67 L477.75,134 L478.2,133.34 L478.65,132.67 L479.09,132.01 L479.54,131.34 L479.99,130.68 L480.43,130.01 L480.88,129.35 L481.32,128.68 L481.75,128 L482.18,127.33 L482.61,126.65 L483.03,125.96 L483.45,125.28 L483.86,124.6 L484.28,123.91 L484.69,123.22 L485.11,122.54 L485.52,121.85 L485.94,121.17 L486.35,120.48 L486.77,119.8 L487.19,119.11 L487.6,118.43 L488.02,117.74 L488.43,117.06 L488.85,116.37 L489.27,115.69 L489.69,115.01 L490.11,114.33 L490.54,113.65 L490.97,112.97 L491.41,112.3 L491.84,111.63 L492.28,110.95 L492.71,110.28 L493.15,109.61 L493.59,108.94 L494.03,108.26 L494.46,107.59 L494.9,106.92 L495.34,106.25 L495.78,105.58 L496.23,104.92 L496.68,104.26 L497.14,103.6 L497.61,102.95 L498.08,102.3 L498.55,101.65 L499.03,101.01 L499.51,100.37 L499.98,99.72 L500.46,99.08 L500.94,98.44 L501.42,97.8 L501.91,97.16 L502.4,96.52 L502.89,95.89 L503.4,95.28 L503.92,94.67 L504.45,94.07 L504.99,93.47 L505.53,92.89 L506.08,92.31 L506.63,91.73 L507.19,91.15 L507.74,90.57 L508.3,89.99 L508.86,89.42 L509.42,88.85 L509.99,88.29 L510.57,87.73 L511.15,87.18 L511.74,86.64 L512.33,86.1 L512.93,85.56 L513.52,85.02 L514.12,84.49 L514.72,83.96 L515.33,83.43 L515.93,82.91 L516.55,82.4 L517.18,81.9 L517.81,81.41 L518.45,80.94 L519.1,80.47 L519.75,80 L520.41,79.54 L521.07,79.08 L521.73,78.63 L522.39,78.18 L523.06,77.75 L523.74,77.32 L524.43,76.91 L525.12,76.51 L525.82,76.12 L526.52,75.74 L527.23,75.36 L527.93,74.98 L528.64,74.6 L529.35,74.22 L530.05,73.84 L530.76,73.46 L531.47,73.08 L532.17,72.7 L532.88,72.32 L533.58,71.94 L534.29,71.56 L535,71.18 L535.7,70.81 L536.41,70.43 L537.11,70.05 L537.82,69.66 L538.52,69.28 L539.22,68.89 L539.92,68.49 L540.61,68.09 L541.3,67.68 L541.98,67.26 L542.67,66.85 L543.35,66.43 L544.03,66 L544.71,65.58 L545.4,65.16 L546.08,64.74 L546.76,64.32 L547.44,63.9 L548.12,63.47 L548.8,63.05 L549.49,62.63 L550.17,62.21 L550.85,61.79 L551.53,61.37 L552.21,60.94 L552.89,60.52 L553.58,60.11 L554.26,59.69 L554.95,59.29 L555.65,58.89 L556.35,58.5 L557.06,58.13 L557.77,57.76 L558.49,57.4 L559.21,57.05 L559.93,56.7 L560.65,56.35 L561.37,56 L562.09,55.65 L562.81,55.3 L563.53,54.95 L564.25,54.6 L564.97,54.25 L565.69,53.9 L566.42,53.55 L567.14,53.2 L567.86,52.85 L568.58,52.5 L569.3,52.15 L570.02,51.8 L570.74,51.45 L571.47,51.1 L572.19,50.76 L572.92,50.42 L573.64,50.08 L574.37,49.74 L575.1,49.41 L575.83,49.08 L576.56,48.75 L577.29,48.42 L578.02,48.09 L578.75,47.76 L579.48,47.43 L580.21,47.1 L580.94,46.77 L581.67,46.44 L582.4,46.11 L583.13,45.78 L583.87,45.45 L584.6,45.12 L585.33,44.79 L586.06,44.46 L586.79,44.14 L587.52,43.81 L588.25,43.49 L588.99,43.17 L589.73,42.86 L590.47,42.55 L591.21,42.24 L591.95,41.94 L592.7,41.64 L593.44,41.34 L594.18,41.05 L594.93,40.75 L595.67,40.45 L596.42,40.15 L597.16,39.86 L597.9,39.56 L598.65,39.26 L599.39,38.96 L600.14,38.67 L600.88,38.37 L601.63,38.07 L602.37,37.77 L603.12,37.48 L603.86,37.19 L604.61,36.9 L605.36,36.61 L606.11,36.34 L606.86,36.07 L607.62,35.8 L608.38,35.54 L609.14,35.29 L609.9,35.03 L610.66,34.78 L611.42,34.53 L612.18,34.27 L612.94,34.02 L613.7,33.77 L614.46,33.51 L615.22,33.26 L615.98,33.01 L616.74,32.75 L617.5,32.5 L618.26,32.25 L619.02,31.99 L619.79,31.74 L620.55,31.5 L621.31,31.25 L622.08,31.01 L622.84,30.78 L623.61,30.55 L624.38,30.32 L625.15,30.1 L625.92,29.87 L626.69,29.65 L627.46,29.43 L628.23,29.21 L629,28.99 L629.77,28.77 L630.54,28.55 L631.31,28.32 L632.08,28.1 L632.85,27.88 L633.62,27.66 L634.39,27.44 L635.16,27.22 L635.93,27 L636.71,26.78 L637.48,26.56 L638.25,26.35 L639.02,26.14 L639.8,25.94 L640.58,25.74 L641.35,25.55 L642.13,25.35 L642.91,25.16 L643.69,24.97 L644.47,24.78 L645.24,24.58 L646.02,24.39 L646.8,24.2" stroke="#2a2a2a" stroke-width="1.25" fill="none" stroke-linejoin="round" stroke-linecap="round"/>
<path d="M387.3,192.5 L388.09,192.39 L388.89,192.29 L389.68,192.18 L390.48,192.07 L391.27,191.97 L392.06,191.86 L392.86,191.75 L393.65,191.65 L394.45,191.54 L395.24,191.43 L396.03,191.33 L396.83,191.22 L397.62,191.11 L398.41,191 L399.21,190.89 L400,190.77 L400.79,190.65 L401.58,190.52 L402.37,190.39 L403.16,190.25 L403.95,190.11 L404.74,189.97 L405.52,189.83 L406.31,189.68 L407.1,189.54 L407.89,189.4 L408.68,189.25 L409.46,189.1 L410.25,188.95 L411.04,188.8 L411.82,188.64 L412.6,188.47 L413.39,188.3 L414.17,188.12 L414.95,187.95 L415.73,187.77 L416.51,187.59 L417.29,187.41 L418.07,187.23 L418.85,187.04 L419.62,186.84 L420.4,186.63 L421.17,186.41 L421.94,186.19 L422.7,185.96 L423.47,185.73 L424.24,185.49 L425,185.26 L425.77,185.02 L426.53,184.78 L427.3,184.55 L428.06,184.3 L428.82,184.06 L429.58,183.8 L430.33,183.53 L431.08,183.25 L431.82,182.96 L432.56,182.65 L433.3,182.33 L434.03,182.01 L434.76,181.68 L435.49,181.36 L436.22,181.03 L436.95,180.7 L437.68,180.36 L438.4,180.02 L439.11,179.65 L439.81,179.27 L440.5,178.87 L441.17,178.44 L441.83,178 L442.49,177.54 L443.14,177.07 L443.78,176.6 L444.43,176.12 L445.06,175.64 L445.69,175.14 L446.3,174.63 L446.9,174.11 L447.49,173.56 L448.06,173 L448.62,172.43 L449.17,171.86 L449.72,171.27 L450.27,170.69 L450.82,170.11 L451.36,169.52 L451.91,168.93 L452.45,168.34 L452.99,167.75 L453.52,167.15 L454.04,166.55 L454.55,165.93 L455.06,165.31 L455.56,164.69 L456.06,164.06 L456.55,163.43 L457.05,162.8 L457.54,162.17 L458.04,161.54 L458.53,160.91 L459.02,160.28 L459.52,159.65 L460.01,159.01 L460.5,158.38 L460.99,157.75 L461.49,157.12 L461.98,156.48 L462.46,155.85 L462.95,155.21 L463.43,154.57 L463.92,153.94 L464.4,153.29 L464.88,152.65 L465.36,152.01 L465.84,151.37 L466.32,150.73 L466.8,150.09 L467.28,149.45 L467.75,148.8 L468.23,148.16 L468.71,147.52 L469.19,146.88 L469.66,146.23 L470.13,145.58 L470.6,144.93 L471.06,144.27 L471.52,143.62 L471.97,142.96 L472.42,142.3 L472.88,141.64 L473.33,140.98 L473.78,140.32 L474.24,139.66 L474.69,138.99 L475.14,138.33 L475.59,137.67 L476.05,137.01 L476.5,136.35 L476.95,135.69 L477.4,135.02 L477.84,134.36 L478.29,133.7 L478.74,133.03 L479.19,132.37 L479.64,131.7 L480.08,131.04 L480.53,130.37 L480.97,129.71 L481.41,129.03 L481.84,128.36 L482.27,127.68 L482.69,127 L483.11,126.32 L483.53,125.64 L483.95,124.95 L484.36,124.27 L484.78,123.58 L485.19,122.9 L485.61,122.21 L486.02,121.53 L486.44,120.84 L486.85,120.16 L487.27,119.47 L487.68,118.79 L488.1,118.1 L488.51,117.42 L488.93,116.74 L489.35,116.05 L489.77,115.37 L490.2,114.69 L490.63,114.02 L491.06,113.34 L491.49,112.67 L491.93,112 L492.36,111.32 L492.8,110.65 L493.23,109.98 L493.67,109.31 L494.11,108.64 L494.55,107.97 L494.98,107.3 L495.42,106.63 L495.87,105.96 L496.31,105.3 L496.77,104.64 L497.23,103.98 L497.69,103.33 L498.16,102.68 L498.64,102.04 L499.11,101.39 L499.59,100.75 L500.07,100.11 L500.55,99.46 L501.03,98.82 L501.51,98.18 L501.99,97.54 L502.48,96.91 L502.98,96.28 L503.49,95.67 L504.01,95.06 L504.54,94.46 L505.08,93.87 L505.63,93.29 L506.18,92.71 L506.73,92.13 L507.28,91.55 L507.84,90.97 L508.4,90.4 L508.96,89.82 L509.52,89.26 L510.09,88.7 L510.67,88.14 L511.26,87.6 L511.85,87.06 L512.45,86.53 L513.05,86 L513.65,85.47 L514.25,84.94 L514.85,84.41 L515.46,83.89 L516.08,83.38 L516.7,82.87 L517.33,82.38 L517.96,81.9 L518.61,81.42 L519.26,80.95 L519.91,80.49 L520.57,80.03 L521.23,79.58 L521.89,79.13 L522.55,78.68 L523.23,78.25 L523.91,77.83 L524.6,77.43 L525.29,77.04 L526,76.65 L526.7,76.28 L527.41,75.9 L528.12,75.53 L528.83,75.16 L529.54,74.79 L530.25,74.41 L530.96,74.04 L531.67,73.67 L532.38,73.3 L533.09,72.93 L533.8,72.55 L534.5,72.18 L535.21,71.81 L535.92,71.44 L536.63,71.06 L537.34,70.69 L538.05,70.31 L538.75,69.93 L539.45,69.55 L540.15,69.16 L540.85,68.76 L541.54,68.35 L542.23,67.94 L542.91,67.53 L543.6,67.12 L544.28,66.7 L544.97,66.29 L545.65,65.87 L546.34,65.46 L547.02,65.04 L547.71,64.63 L548.39,64.21 L549.08,63.8 L549.76,63.38 L550.45,62.97 L551.13,62.55 L551.82,62.14 L552.5,61.72 L553.19,61.31 L553.88,60.9 L554.57,60.49 L555.26,60.09 L555.96,59.7 L556.66,59.32 L557.37,58.94 L558.08,58.58 L558.8,58.21 L559.51,57.86 L560.23,57.5 L560.95,57.14 L561.66,56.79 L562.38,56.43 L563.1,56.07 L563.82,55.72 L564.53,55.36 L565.25,55 L565.97,54.65 L566.68,54.29 L567.4,53.93 L568.12,53.58 L568.84,53.22 L569.55,52.86 L570.27,52.51 L570.99,52.16 L571.71,51.81 L572.44,51.47 L573.16,51.13 L573.89,50.8 L574.62,50.48 L575.36,50.16 L576.09,49.84 L576.83,49.52 L577.57,49.21 L578.3,48.89 L579.04,48.58 L579.78,48.26 L580.51,47.95 L581.25,47.64 L581.99,47.32 L582.72,47.01 L583.46,46.69 L584.2,46.38 L584.93,46.06 L585.67,45.75 L586.41,45.44 L587.15,45.13 L587.89,44.82 L588.63,44.51 L589.37,44.21 L590.12,43.92 L590.86,43.63 L591.61,43.35 L592.36,43.07 L593.11,42.79 L593.86,42.51 L594.62,42.24 L595.37,41.96 L596.12,41.68 L596.87,41.4 L597.62,41.12 L598.37,40.85 L599.12,40.57 L599.87,40.29 L600.63,40.01 L601.38,39.74 L602.13,39.46 L602.88,39.18 L603.63,38.91 L604.39,38.64 L605.14,38.37 L605.9,38.11 L606.66,37.86 L607.42,37.61 L608.19,37.37 L608.95,37.13 L609.72,36.9 L610.48,36.66 L611.25,36.43 L612.01,36.19 L612.78,35.96 L613.54,35.72 L614.31,35.49 L615.07,35.25 L615.84,35.01 L616.61,34.78 L617.37,34.54 L618.14,34.31 L618.9,34.07 L619.67,33.84 L620.43,33.6 L621.2,33.37 L621.97,33.13 L622.73,32.9 L623.5,32.67 L624.27,32.45 L625.04,32.23 L625.81,32.02 L626.59,31.82 L627.36,31.62 L628.14,31.42 L628.92,31.23 L629.69,31.04 L630.47,30.84 L631.25,30.65 L632.03,30.46 L632.8,30.27 L633.58,30.07 L634.36,29.88 L635.14,29.69 L635.91,29.5 L636.69,29.3 L637.47,29.11 L638.25,28.92 L639.02,28.73 L639.8,28.53 L640.58,28.34 L641.36,28.15 L642.13,27.96 L642.91,27.76 L643.69,27.57 L644.47,27.38 L645.24,27.19 L646.02,26.99 L646.8,26.8" stroke="#2a2ae8" stroke-width="1.25" fill="none" stroke-linejoin="round" stroke-linecap="round"/>
<path d="M387.3,192.4 L388.09,192.29 L388.89,192.19 L389.68,192.08 L390.48,191.97 L391.27,191.87 L392.07,191.76 L392.86,191.65 L393.66,191.55 L394.45,191.44 L395.25,191.33 L396.04,191.23 L396.84,191.12 L397.63,191.01 L398.43,190.9 L399.22,190.78 L400.01,190.66 L400.81,190.54 L401.6,190.41 L402.39,190.27 L403.17,190.12 L403.96,189.98 L404.75,189.83 L405.54,189.68 L406.33,189.53 L407.11,189.38 L407.9,189.23 L408.69,189.07 L409.48,188.92 L410.26,188.76 L411.04,188.59 L411.83,188.41 L412.61,188.23 L413.39,188.05 L414.17,187.86 L414.95,187.66 L415.72,187.47 L416.5,187.27 L417.28,187.08 L418.05,186.87 L418.83,186.67 L419.6,186.45 L420.37,186.23 L421.14,186 L421.91,185.76 L422.67,185.52 L423.43,185.28 L424.2,185.03 L424.96,184.78 L425.72,184.53 L426.48,184.28 L427.24,184.03 L428,183.77 L428.76,183.51 L429.52,183.24 L430.26,182.96 L431.01,182.66 L431.74,182.35 L432.48,182.03 L433.2,181.69 L433.93,181.35 L434.65,181.01 L435.38,180.66 L436.1,180.31 L436.82,179.96 L437.54,179.61 L438.25,179.25 L438.96,178.87 L439.65,178.48 L440.34,178.06 L441,177.63 L441.66,177.17 L442.31,176.7 L442.95,176.22 L443.59,175.74 L444.23,175.25 L444.86,174.76 L445.48,174.25 L446.09,173.74 L446.68,173.2 L447.26,172.66 L447.83,172.09 L448.38,171.51 L448.93,170.92 L449.47,170.33 L450,169.74 L450.54,169.14 L451.08,168.55 L451.61,167.95 L452.15,167.35 L452.68,166.75 L453.2,166.15 L453.73,165.54 L454.24,164.92 L454.75,164.3 L455.25,163.67 L455.74,163.04 L456.24,162.41 L456.73,161.78 L457.22,161.14 L457.71,160.51 L458.2,159.88 L458.69,159.24 L459.18,158.61 L459.68,157.97 L460.17,157.34 L460.66,156.71 L461.15,156.07 L461.64,155.44 L462.12,154.8 L462.61,154.16 L463.09,153.52 L463.57,152.88 L464.05,152.24 L464.53,151.59 L465.01,150.95 L465.49,150.3 L465.96,149.66 L466.44,149.01 L466.92,148.37 L467.39,147.72 L467.87,147.08 L468.35,146.43 L468.82,145.79 L469.3,145.14 L469.77,144.49 L470.23,143.84 L470.7,143.19 L471.16,142.53 L471.62,141.87 L472.07,141.21 L472.53,140.55 L472.98,139.89 L473.43,139.23 L473.89,138.57 L474.34,137.9 L474.79,137.24 L475.25,136.58 L475.7,135.92 L476.15,135.25 L476.6,134.59 L477.04,133.92 L477.49,133.26 L477.94,132.59 L478.38,131.93 L478.83,131.26 L479.27,130.59 L479.72,129.92 L480.16,129.25 L480.6,128.59 L481.04,127.91 L481.48,127.24 L481.91,126.56 L482.33,125.88 L482.75,125.2 L483.17,124.52 L483.58,123.83 L484,123.14 L484.41,122.46 L484.83,121.77 L485.24,121.08 L485.65,120.39 L486.07,119.71 L486.48,119.02 L486.89,118.33 L487.31,117.65 L487.72,116.96 L488.13,116.27 L488.55,115.58 L488.96,114.9 L489.38,114.21 L489.8,113.53 L490.22,112.85 L490.65,112.17 L491.08,111.49 L491.51,110.82 L491.94,110.14 L492.38,109.47 L492.81,108.79 L493.24,108.12 L493.68,107.44 L494.11,106.77 L494.55,106.1 L494.98,105.42 L495.42,104.75 L495.86,104.08 L496.31,103.41 L496.76,102.75 L497.21,102.09 L497.68,101.44 L498.15,100.79 L498.62,100.14 L499.09,99.49 L499.57,98.84 L500.04,98.2 L500.52,97.55 L500.99,96.91 L501.47,96.26 L501.95,95.62 L502.43,94.98 L502.92,94.35 L503.42,93.72 L503.93,93.1 L504.45,92.49 L504.98,91.89 L505.51,91.29 L506.04,90.69 L506.58,90.1 L507.12,89.5 L507.66,88.91 L508.2,88.32 L508.74,87.73 L509.29,87.15 L509.85,86.57 L510.42,86 L510.99,85.45 L511.58,84.9 L512.16,84.35 L512.76,83.81 L513.35,83.28 L513.95,82.74 L514.55,82.21 L515.15,81.68 L515.76,81.16 L516.38,80.65 L517,80.14 L517.63,79.65 L518.27,79.17 L518.92,78.7 L519.57,78.23 L520.23,77.77 L520.88,77.31 L521.54,76.85 L522.2,76.39 L522.86,75.94 L523.52,75.49 L524.19,75.05 L524.86,74.6 L525.53,74.17 L526.21,73.73 L526.88,73.3 L527.56,72.86 L528.23,72.43 L528.91,72 L529.58,71.57 L530.26,71.13 L530.93,70.7 L531.61,70.27 L532.28,69.84 L532.96,69.4 L533.64,68.97 L534.31,68.54 L534.99,68.12 L535.67,67.7 L536.36,67.28 L537.04,66.86 L537.73,66.44 L538.41,66.03 L539.1,65.61 L539.79,65.2 L540.48,64.79 L541.16,64.37 L541.85,63.96 L542.54,63.55 L543.23,63.13 L543.91,62.72 L544.6,62.31 L545.29,61.89 L545.97,61.48 L546.66,61.07 L547.35,60.66 L548.04,60.24 L548.73,59.84 L549.42,59.43 L550.11,59.03 L550.81,58.64 L551.52,58.25 L552.22,57.87 L552.93,57.49 L553.64,57.12 L554.35,56.75 L555.06,56.38 L555.77,56 L556.48,55.63 L557.19,55.26 L557.9,54.89 L558.61,54.51 L559.32,54.13 L560.02,53.75 L560.72,53.36 L561.42,52.96 L562.11,52.57 L562.81,52.16 L563.5,51.76 L564.2,51.36 L564.89,50.96 L565.58,50.55 L566.28,50.15 L566.97,49.75 L567.66,49.34 L568.36,48.94 L569.05,48.54 L569.74,48.14 L570.44,47.74 L571.14,47.34 L571.84,46.96 L572.54,46.58 L573.26,46.21 L573.97,45.85 L574.7,45.51 L575.42,45.17 L576.15,44.84 L576.88,44.5 L577.61,44.17 L578.34,43.84 L579.08,43.51 L579.81,43.18 L580.54,42.85 L581.27,42.52 L582,42.19 L582.73,41.86 L583.46,41.53 L584.19,41.2 L584.92,40.87 L585.66,40.55 L586.39,40.22 L587.12,39.89 L587.85,39.56 L588.59,39.24 L589.32,38.93 L590.06,38.62 L590.8,38.31 L591.55,38.01 L592.29,37.71 L593.03,37.41 L593.78,37.11 L594.52,36.81 L595.27,36.51 L596.01,36.22 L596.76,35.92 L597.5,35.62 L598.25,35.32 L598.99,35.02 L599.74,34.73 L600.48,34.43 L601.22,34.13 L601.97,33.83 L602.72,33.54 L603.46,33.24 L604.21,32.96 L604.96,32.68 L605.71,32.41 L606.47,32.15 L607.23,31.9 L608,31.65 L608.76,31.42 L609.53,31.19 L610.3,30.96 L611.07,30.73 L611.84,30.5 L612.61,30.27 L613.37,30.04 L614.14,29.81 L614.91,29.58 L615.68,29.35 L616.45,29.12 L617.22,28.89 L617.98,28.66 L618.75,28.43 L619.52,28.2 L620.29,27.97 L621.06,27.75 L621.83,27.53 L622.6,27.31 L623.37,27.09 L624.15,26.87 L624.92,26.66 L625.69,26.45 L626.47,26.24 L627.24,26.03 L628.02,25.82 L628.79,25.61 L629.57,25.41 L630.34,25.21 L631.12,25 L631.89,24.8 L632.67,24.6 L633.45,24.4 L634.22,24.2 L635,24" stroke="#ee2a2a" stroke-width="1.25" fill="none" stroke-linejoin="round" stroke-linecap="round"/>
<path d="M387.3,192.6 L388.1,192.51 L388.89,192.41 L389.69,192.32 L390.48,192.22 L391.28,192.13 L392.07,192.03 L392.87,191.94 L393.66,191.84 L394.46,191.75 L395.26,191.65 L396.05,191.56 L396.85,191.46 L397.64,191.36 L398.44,191.27 L399.23,191.17 L400.03,191.07 L400.82,190.97 L401.62,190.86 L402.41,190.75 L403.2,190.64 L404,190.53 L404.79,190.42 L405.58,190.3 L406.37,190.19 L407.17,190.08 L407.96,189.96 L408.75,189.84 L409.55,189.73 L410.34,189.6 L411.13,189.47 L411.92,189.34 L412.71,189.2 L413.49,189.05 L414.28,188.9 L415.07,188.75 L415.85,188.6 L416.64,188.45 L417.43,188.29 L418.21,188.13 L418.99,187.96 L419.77,187.79 L420.55,187.6 L421.33,187.4 L422.1,187.2 L422.88,186.99 L423.65,186.78 L424.42,186.56 L425.19,186.35 L425.96,186.13 L426.73,185.91 L427.5,185.69 L428.27,185.46 L429.03,185.22 L429.79,184.96 L430.54,184.69 L431.29,184.41 L432.03,184.12 L432.77,183.81 L433.51,183.5 L434.25,183.19 L434.99,182.88 L435.72,182.56 L436.46,182.25 L437.2,181.93 L437.93,181.6 L438.65,181.27 L439.37,180.92 L440.08,180.56 L440.78,180.17 L441.47,179.77 L442.16,179.36 L442.84,178.93 L443.51,178.51 L444.19,178.07 L444.86,177.64 L445.53,177.19 L446.19,176.75 L446.85,176.29 L447.51,175.83 L448.15,175.36 L448.8,174.89 L449.44,174.41 L450.09,173.93 L450.73,173.45 L451.37,172.97 L452.01,172.49 L452.64,172.01 L453.28,171.52 L453.91,171.03 L454.54,170.53 L455.17,170.03 L455.8,169.53 L456.42,169.03 L457.04,168.52 L457.66,168.02 L458.28,167.51 L458.9,167.01 L459.52,166.5 L460.14,165.99 L460.76,165.48 L461.37,164.96 L461.96,164.43 L462.55,163.89 L463.13,163.33 L463.69,162.76 L464.24,162.19 L464.79,161.6 L465.33,161.01 L465.88,160.42 L466.42,159.83 L466.96,159.24 L467.5,158.65 L468.04,158.06 L468.58,157.47 L469.11,156.87 L469.64,156.27 L470.16,155.66 L470.67,155.04 L471.17,154.42 L471.67,153.79 L472.16,153.16 L472.65,152.53 L473.14,151.9 L473.63,151.26 L474.12,150.62 L474.61,149.99 L475.1,149.35 L475.58,148.72 L476.07,148.08 L476.56,147.45 L477.05,146.81 L477.54,146.18 L478.02,145.54 L478.51,144.91 L479,144.27 L479.49,143.64 L479.98,143 L480.47,142.37 L480.96,141.73 L481.44,141.1 L481.93,140.46 L482.42,139.83 L482.91,139.19 L483.4,138.56 L483.89,137.93 L484.39,137.3 L484.89,136.67 L485.39,136.05 L485.9,135.44 L486.43,134.83 L486.95,134.22 L487.48,133.63 L488.02,133.03 L488.56,132.43 L489.09,131.84 L489.63,131.25 L490.17,130.65 L490.71,130.06 L491.25,129.47 L491.79,128.88 L492.34,128.3 L492.9,127.73 L493.47,127.16 L494.04,126.61 L494.63,126.06 L495.22,125.52 L495.82,124.99 L496.42,124.46 L497.01,123.92 L497.61,123.39 L498.21,122.86 L498.81,122.33 L499.42,121.8 L500.02,121.27 L500.62,120.75 L501.23,120.23 L501.85,119.72 L502.47,119.21 L503.1,118.72 L503.73,118.22 L504.36,117.73 L505,117.25 L505.64,116.76 L506.27,116.28 L506.91,115.79 L507.55,115.31 L508.19,114.82 L508.82,114.34 L509.46,113.85 L510.1,113.37 L510.74,112.88 L511.38,112.4 L512.01,111.91 L512.65,111.43 L513.29,110.95 L513.93,110.46 L514.57,109.99 L515.22,109.52 L515.87,109.06 L516.54,108.62 L517.22,108.2 L517.91,107.81 L518.61,107.43 L519.33,107.07 L520.05,106.72 L520.77,106.37 L521.49,106.03 L522.22,105.68 L522.94,105.34 L523.66,105 L524.39,104.66 L525.11,104.31 L525.84,103.97 L526.56,103.63 L527.28,103.29 L528.01,102.94 L528.73,102.6 L529.46,102.26 L530.18,101.92 L530.91,101.59 L531.64,101.25 L532.37,100.91 L533.09,100.58 L533.82,100.24 L534.55,99.91 L535.28,99.57 L536,99.24 L536.73,98.9 L537.46,98.57 L538.19,98.24 L538.92,97.91 L539.65,97.59 L540.39,97.27 L541.13,96.96 L541.87,96.65 L542.61,96.34 L543.35,96.04 L544.09,95.74 L544.83,95.44 L545.57,95.14 L546.32,94.83 L547.06,94.53 L547.8,94.23 L548.54,93.93 L549.29,93.63 L550.03,93.33 L550.77,93.03 L551.51,92.73 L552.26,92.42 L553,92.12 L553.74,91.82 L554.48,91.52 L555.23,91.23 L555.97,90.93 L556.72,90.64 L557.47,90.36 L558.22,90.08 L558.97,89.8 L559.72,89.52 L560.47,89.25 L561.23,88.97 L561.98,88.7 L562.73,88.42 L563.48,88.14 L564.24,87.87 L564.99,87.59 L565.74,87.32 L566.49,87.04 L567.24,86.77 L568,86.49 L568.75,86.22 L569.5,85.94 L570.25,85.67 L571.01,85.39 L571.76,85.12 L572.51,84.84 L573.26,84.57 L574.02,84.29 L574.77,84.01 L575.52,83.74 L576.27,83.46 L577.03,83.19 L577.78,82.91 L578.53,82.63 L579.28,82.35 L580.02,82.06 L580.77,81.77 L581.52,81.47 L582.26,81.18 L583,80.88 L583.74,80.58 L584.49,80.27 L585.23,79.97 L585.97,79.67 L586.71,79.37 L587.46,79.07 L588.2,78.76 L588.94,78.46 L589.68,78.16 L590.42,77.86 L591.17,77.56 L591.91,77.25 L592.65,76.95 L593.39,76.65 L594.13,76.35 L594.88,76.05 L595.62,75.74 L596.36,75.44 L597.1,75.14 L597.84,74.84 L598.59,74.54 L599.33,74.23 L600.07,73.93 L600.81,73.63 L601.55,73.33 L602.3,73.03 L603.04,72.73 L603.78,72.43 L604.53,72.14 L605.28,71.86 L606.03,71.58 L606.78,71.31 L607.54,71.05 L608.3,70.8 L609.06,70.55 L609.82,70.3 L610.59,70.05 L611.35,69.81 L612.11,69.56 L612.87,69.32 L613.64,69.07 L614.4,68.82 L615.16,68.58 L615.92,68.33 L616.69,68.08 L617.45,67.84 L618.21,67.59 L618.97,67.35 L619.74,67.1 L620.5,66.85 L621.26,66.61 L622.02,66.36 L622.79,66.12 L623.55,65.88 L624.32,65.65 L625.09,65.43 L625.86,65.21 L626.63,65 L627.4,64.79 L628.18,64.59 L628.95,64.39 L629.73,64.19 L630.5,63.99 L631.28,63.79 L632.06,63.59 L632.83,63.39 L633.61,63.19 L634.38,62.99 L635.16,62.79 L635.94,62.59 L636.71,62.39 L637.49,62.19 L638.26,61.99 L639.04,61.79 L639.82,61.59 L640.59,61.39 L641.37,61.2 L642.14,61 L642.92,60.8 L643.7,60.6 L644.47,60.4 L645.25,60.2 L646.02,60 L646.8,59.8" stroke="#f06ab0" stroke-width="1.25" fill="none" stroke-linejoin="round" stroke-linecap="round"/>
</g>
<line x1="431.2" y1="192.7" x2="457" y2="161.2" stroke="#ee2a2a" stroke-width="1.25"/>
<line x1="460.6" y1="192.7" x2="476" y2="175.3" stroke="#a84ed8" stroke-width="1.25"/>
<line x1="431" y1="192.9" x2="431" y2="165.4" stroke="#1a1a1a" stroke-width="1.2"/>
<polygon points="431,159.9 432.8,166.4 429.2,166.4" fill="#1a1a1a"/>
<text x="424.8" y="157.21" font-size="7.6" text-anchor="start" fill="#1e1e1e" stroke="#1e1e1e" stroke-width="0.22" font-weight="bold">3.25 eV</text>
<line x1="462.1" y1="191.9" x2="506.15" y2="180.25" stroke="#1a1a1a" stroke-width="1"/>
<polygon points="510.5,179.1 505.69,182.44 504.67,178.57" fill="#1a1a1a"/>
<text x="515.3" y="180.81" font-size="7.6" text-anchor="start" fill="#1e1e1e" stroke="#1e1e1e" stroke-width="0.22" font-weight="bold">3.35 eV</text>
<line x1="396.7" y1="56.9" x2="416.8" y2="56.9" stroke="#a84ed8" stroke-width="1.4"/>
<text x="420.2" y="59.87" font-size="9" text-anchor="start" fill="#1e1e1e" stroke="#1e1e1e" stroke-width="0.22" font-weight="bold">A-TiO2</text>
<line x1="396.7" y1="69.83" x2="416.8" y2="69.83" stroke="#3fe040" stroke-width="1.4"/>
<text x="420.2" y="72.8" font-size="9" text-anchor="start" fill="#1e1e1e" stroke="#1e1e1e" stroke-width="0.22" font-weight="bold">P25</text>
<line x1="396.7" y1="82.76" x2="416.8" y2="82.76" stroke="#2a2a2a" stroke-width="1.4"/>
<text x="420.2" y="85.73" font-size="9" text-anchor="start" fill="#1e1e1e" stroke="#1e1e1e" stroke-width="0.22" font-weight="bold">ST-300</text>
<line x1="396.7" y1="95.69" x2="416.8" y2="95.69" stroke="#ee2a2a" stroke-width="1.4"/>
<text x="420.2" y="98.66" font-size="9" text-anchor="start" fill="#1e1e1e" stroke="#1e1e1e" stroke-width="0.22" font-weight="bold">ST-400</text>
<line x1="396.7" y1="108.62" x2="416.8" y2="108.62" stroke="#2a2ae8" stroke-width="1.4"/>
<text x="420.2" y="111.59" font-size="9" text-anchor="start" fill="#1e1e1e" stroke="#1e1e1e" stroke-width="0.22" font-weight="bold">ST-500</text>
<line x1="396.7" y1="121.55" x2="416.8" y2="121.55" stroke="#3ee8ee" stroke-width="1.4"/>
<text x="420.2" y="124.52" font-size="9" text-anchor="start" fill="#1e1e1e" stroke="#1e1e1e" stroke-width="0.22" font-weight="bold">ST-600</text>
<line x1="396.7" y1="134.48" x2="416.8" y2="134.48" stroke="#f06ab0" stroke-width="1.4"/>
<text x="420.2" y="137.45" font-size="9" text-anchor="start" fill="#1e1e1e" stroke="#1e1e1e" stroke-width="0.22" font-weight="bold">ST-700</text>
<text x="22.5" y="269" font-size="18" text-anchor="start" fill="#1e1e1e" stroke="#1e1e1e" stroke-width="0.22" font-weight="bold">(c)</text>
<rect x="68.9" y="257.3" width="252.5" height="203.7" stroke="#3a3a3a" stroke-width="1.3" fill="none"/>
<line x1="68.9" y1="444.1" x2="72.4" y2="444.1" stroke="#3a3a3a" stroke-width="1"/>
<text x="64.5" y="446.97" font-size="8.7" text-anchor="end" fill="#1e1e1e" stroke="#1e1e1e" stroke-width="0.22" font-weight="bold">0</text>
<line x1="68.9" y1="410.16" x2="72.4" y2="410.16" stroke="#3a3a3a" stroke-width="1"/>
<text x="64.5" y="413.03" font-size="8.7" text-anchor="end" fill="#1e1e1e" stroke="#1e1e1e" stroke-width="0.22" font-weight="bold">200</text>
<line x1="68.9" y1="376.22" x2="72.4" y2="376.22" stroke="#3a3a3a" stroke-width="1"/>
<text x="64.5" y="379.09" font-size="8.7" text-anchor="end" fill="#1e1e1e" stroke="#1e1e1e" stroke-width="0.22" font-weight="bold">400</text>
<line x1="68.9" y1="342.28" x2="72.4" y2="342.28" stroke="#3a3a3a" stroke-width="1"/>
<text x="64.5" y="345.15" font-size="8.7" text-anchor="end" fill="#1e1e1e" stroke="#1e1e1e" stroke-width="0.22" font-weight="bold">600</text>
<line x1="68.9" y1="308.34" x2="72.4" y2="308.34" stroke="#3a3a3a" stroke-width="1"/>
<text x="64.5" y="311.21" font-size="8.7" text-anchor="end" fill="#1e1e1e" stroke="#1e1e1e" stroke-width="0.22" font-weight="bold">800</text>
<line x1="68.9" y1="274.4" x2="72.4" y2="274.4" stroke="#3a3a3a" stroke-width="1"/>
<text x="64.5" y="277.27" font-size="8.7" text-anchor="end" fill="#1e1e1e" stroke="#1e1e1e" stroke-width="0.22" font-weight="bold">1000</text>
<line x1="68.8" y1="461" x2="68.8" y2="464.5" stroke="#3a3a3a" stroke-width="1"/>
<text x="68.8" y="475.07" font-size="8.7" text-anchor="middle" fill="#1e1e1e" stroke="#1e1e1e" stroke-width="0.22" font-weight="bold">10</text>
<line x1="85.64" y1="461" x2="85.64" y2="463" stroke="#3a3a3a" stroke-width="0.9"/>
<line x1="102.48" y1="461" x2="102.48" y2="464.5" stroke="#3a3a3a" stroke-width="1"/>
<text x="102.48" y="475.07" font-size="8.7" text-anchor="middle" fill="#1e1e1e" stroke="#1e1e1e" stroke-width="0.22" font-weight="bold">8</text>
<line x1="119.32" y1="461" x2="119.32" y2="463" stroke="#3a3a3a" stroke-width="0.9"/>
<line x1="136.16" y1="461" x2="136.16" y2="464.5" stroke="#3a3a3a" stroke-width="1"/>
<text x="136.16" y="475.07" font-size="8.7" text-anchor="middle" fill="#1e1e1e" stroke="#1e1e1e" stroke-width="0.22" font-weight="bold">6</text>
<line x1="153" y1="461" x2="153" y2="463" stroke="#3a3a3a" stroke-width="0.9"/>
<line x1="169.84" y1="461" x2="169.84" y2="464.5" stroke="#3a3a3a" stroke-width="1"/>
<text x="169.84" y="475.07" font-size="8.7" text-anchor="middle" fill="#1e1e1e" stroke="#1e1e1e" stroke-width="0.22" font-weight="bold">4</text>
<line x1="186.68" y1="461" x2="186.68" y2="463" stroke="#3a3a3a" stroke-width="0.9"/>
<line x1="203.52" y1="461" x2="203.52" y2="464.5" stroke="#3a3a3a" stroke-width="1"/>
<text x="203.52" y="475.07" font-size="8.7" text-anchor="middle" fill="#1e1e1e" stroke="#1e1e1e" stroke-width="0.22" font-weight="bold">2</text>
<line x1="220.36" y1="461" x2="220.36" y2="463" stroke="#3a3a3a" stroke-width="0.9"/>
<line x1="237.2" y1="461" x2="237.2" y2="464.5" stroke="#3a3a3a" stroke-width="1"/>
<text x="237.2" y="475.07" font-size="8.7" text-anchor="middle" fill="#1e1e1e" stroke="#1e1e1e" stroke-width="0.22" font-weight="bold">0</text>
<line x1="254.04" y1="461" x2="254.04" y2="463" stroke="#3a3a3a" stroke-width="0.9"/>
<line x1="270.88" y1="461" x2="270.88" y2="464.5" stroke="#3a3a3a" stroke-width="1"/>
<text x="270.88" y="475.07" font-size="8.7" text-anchor="middle" fill="#1e1e1e" stroke="#1e1e1e" stroke-width="0.22" font-weight="bold">-2</text>
<line x1="287.72" y1="461" x2="287.72" y2="463" stroke="#3a3a3a" stroke-width="0.9"/>
<line x1="304.56" y1="461" x2="304.56" y2="464.5" stroke="#3a3a3a" stroke-width="1"/>
<text x="304.56" y="475.07" font-size="8.7" text-anchor="middle" fill="#1e1e1e" stroke="#1e1e1e" stroke-width="0.22" font-weight="bold">-4</text>
<line x1="321.4" y1="461" x2="321.4" y2="463" stroke="#3a3a3a" stroke-width="0.9"/>
<text x="190.7" y="488.36" font-size="10.5" text-anchor="middle" fill="#1e1e1e" stroke="#1e1e1e" stroke-width="0.22" font-weight="bold">Binding energy (eV)</text>
<text x="42.5" y="366.46" font-size="10.5" text-anchor="middle" fill="#1e1e1e" stroke="#1e1e1e" stroke-width="0.22" font-weight="bold" transform="rotate(-90 42.5 363)">Intensity (a.u.)</text>
<line x1="69.9" y1="444.1" x2="320.4" y2="444.1" stroke="#c04848" stroke-width="0.9" stroke-dasharray="2.7,2"/>
<polyline points="68.9,383.4 70.3,384.8 71.9,379.6 72.7,385.3 73.6,392 75.6,393.4 76.5,393.9 77.5,385.3 78.9,391 80.3,394.9 81.8,393 83.2,401.5 84.6,395.8 86.6,404.4 88.5,406.3 89.9,404.9 91.3,409.2 92.8,407.8 94.2,411.1 95.6,414 97.1,408.2 99,402.5 100.4,398.7 101.9,389.1 102.8,379.6 103.8,378.1 104.7,377.2 105.3,368 106.5,363.6 107.6,348.7 108.8,341.2 109.3,340 110.5,331.5 112.2,320 112.8,317.4 113.6,308 114.3,302 115,306 115.7,311.6 116.6,301.1 117.4,303 118.2,305.9 118.85,298.6 119.5,288.7 120.2,292 120.8,296.3 121.6,291 122.4,285.8 123.3,290 123.8,291.4 124.3,295.4 125.1,288 125.8,282.9 126.25,280.75 126.7,276 127.5,270.5 128.3,276 129.1,284 129.6,294 130.3,292 130,292.9 130.5,294.7 131,299.1 131.95,301.1 132.9,300.5 133.6,302.3 134.3,306.7 135,309.7 135.7,310.1 136.65,311.65 137.6,315.8 138.6,320.45 139.6,322.5 140.05,322.15 140.5,324.4 141.3,317.7 142.2,324.4 143.05,330.5 143.9,334 144.6,326.45 145.3,321.5 146.15,316.85 147,309.6 147.6,315.7 148.2,324.4 148.9,326.2 149.6,325.4 150.3,321.7 151,320.6 151.5,324.3 152,325.4 152.45,327.9 152.9,333 153.65,329.3 154.4,323 154.85,321.45 155.3,322.5 156.05,327.4 156.8,329.7 157.5,325.5 158.2,323.9 159.15,324.75 160.1,323 161.05,318.8 162,317.2 162.75,321.65 163.5,323.5 164.2,319.3 164.9,317.7 165.6,317.6 166.3,314.9 167.05,315.75 167.8,319.2 168.5,322.15 169.2,322.5 170.15,319.3 171.1,318.7 172.05,321.9 173,322.5 173.95,325.05 174.9,330.2 175.85,330.05 176.8,327.3 177.6,333 178.4,341.5 179,343.5 179.4,345.5 179.9,353 180.4,361.6 181.5,358.9 182.3,360.5 183.1,360.2 184.2,363.2 185.1,366.5 186.3,372.6 187.4,380 188.4,387.4 189.5,395 190.5,402.1 191.6,409.5 192.6,416.8 193.6,421.5 194.7,426.3 195.7,428.5 196.8,431.6 198.4,434.5 200,436.8 201.6,439.3 203.2,441.1 205.3,442.2 206.35,443.05 207.4,442.7 208.7,442.4 210,443.3 211.5,443.75 213,443 214.5,442.7 216,443.6 217.5,444 219,443.2 220.5,442.85 222,443.7 224,444.1 226,443.3 228,442.95 230,443.8 232,444.1 234,443.2 236,442.8 238,443.6 240,444.1 242,443.4 244,443 246,443.8 248,444.15 250,443.3 252,442.85 254,443.6 256,444 258,443.2 260,442.85 262,443.7 264,444.15 266,443.4 268,443 270,443.8 272,444.15 274,443.3 276,442.85 278,443.6 280,444.1 282,443.4 284,443 286,443.8 288,444.15 290,443.3 292,442.9 294,443.7 296,444.15 298,443.4 300,442.9 302,443.6 304,444.05 306,443.3 308,442.9 310,443.7 312,444.15 314,443.4 316,442.9 318,443.6 319.4,444.15 320.8,443.5" stroke="#ee1c1c" stroke-width="1.5" fill="none" stroke-linejoin="round"/>
<line x1="180.4" y1="326.1" x2="197.3" y2="460.3" stroke="#1a1a1a" stroke-width="1" stroke-dasharray="2,1.6"/>
<line x1="196.9" y1="460.2" x2="170.61" y2="432.66" stroke="#1a1a1a" stroke-width="1.1"/>
<polygon points="167.5,429.4 172.89,431.86 169.71,434.9" fill="#1a1a1a"/>
<text x="145" y="425.17" font-size="8.4" text-anchor="start" fill="#1e1e1e" stroke="#1e1e1e" stroke-width="0.22" font-weight="bold">2.41 eV</text>
<line x1="256.8" y1="279.2" x2="278.3" y2="279.2" stroke="#ee1c1c" stroke-width="1.5"/>
<text x="281" y="283.16" font-size="10.8" text-anchor="start" fill="#1e1e1e" stroke="#1e1e1e" stroke-width="0.22" font-weight="bold">ST-400</text>
<text x="341" y="271.8" font-size="18" text-anchor="start" fill="#1e1e1e" stroke="#1e1e1e" stroke-width="0.22" font-weight="bold">(d)</text>
<line x1="384.6" y1="266" x2="384.6" y2="480.5" stroke="#3a3a3a" stroke-width="1.3"/>
<polygon points="384.6,261 382.7,268 386.5,268" fill="#3a3a3a"/>
<text x="369" y="277.57" font-size="7.8" text-anchor="start" fill="#1e1e1e" stroke="#1e1e1e" stroke-width="0.22" font-weight="bold">eV</text>
<line x1="384.6" y1="290" x2="388.4" y2="290" stroke="#3a3a3a" stroke-width="0.9"/>
<text x="380" y="292.84" font-size="8.6" text-anchor="end" fill="#1e1e1e" stroke="#1e1e1e" stroke-width="0.22" font-weight="bold">-1.5</text>
<line x1="384.6" y1="309.4" x2="388.4" y2="309.4" stroke="#3a3a3a" stroke-width="0.9"/>
<text x="380" y="312.24" font-size="8.6" text-anchor="end" fill="#1e1e1e" stroke="#1e1e1e" stroke-width="0.22" font-weight="bold">-1.0</text>
<line x1="384.6" y1="328.8" x2="388.4" y2="328.8" stroke="#3a3a3a" stroke-width="0.9"/>
<text x="380" y="331.64" font-size="8.6" text-anchor="end" fill="#1e1e1e" stroke="#1e1e1e" stroke-width="0.22" font-weight="bold">-0.5</text>
<line x1="384.6" y1="348.2" x2="388.4" y2="348.2" stroke="#3a3a3a" stroke-width="0.9"/>
<text x="380" y="351.04" font-size="8.6" text-anchor="end" fill="#1e1e1e" stroke="#1e1e1e" stroke-width="0.22" font-weight="bold">0.0</text>
<line x1="384.6" y1="367.6" x2="388.4" y2="367.6" stroke="#3a3a3a" stroke-width="0.9"/>
<text x="380" y="370.44" font-size="8.6" text-anchor="end" fill="#1e1e1e" stroke="#1e1e1e" stroke-width="0.22" font-weight="bold">+0.5</text>
<line x1="384.6" y1="387" x2="388.4" y2="387" stroke="#3a3a3a" stroke-width="0.9"/>
<text x="380" y="389.84" font-size="8.6" text-anchor="end" fill="#1e1e1e" stroke="#1e1e1e" stroke-width="0.22" font-weight="bold">+1.0</text>
<line x1="384.6" y1="406.4" x2="388.4" y2="406.4" stroke="#3a3a3a" stroke-width="0.9"/>
<text x="380" y="409.24" font-size="8.6" text-anchor="end" fill="#1e1e1e" stroke="#1e1e1e" stroke-width="0.22" font-weight="bold">+1.5</text>
<line x1="384.6" y1="425.8" x2="388.4" y2="425.8" stroke="#3a3a3a" stroke-width="0.9"/>
<text x="380" y="428.64" font-size="8.6" text-anchor="end" fill="#1e1e1e" stroke="#1e1e1e" stroke-width="0.22" font-weight="bold">+2.0</text>
<line x1="384.6" y1="445.2" x2="388.4" y2="445.2" stroke="#3a3a3a" stroke-width="0.9"/>
<text x="380" y="448.04" font-size="8.6" text-anchor="end" fill="#1e1e1e" stroke="#1e1e1e" stroke-width="0.22" font-weight="bold">+2.5</text>
<line x1="384.6" y1="464.6" x2="388.4" y2="464.6" stroke="#3a3a3a" stroke-width="0.9"/>
<text x="380" y="467.44" font-size="8.6" text-anchor="end" fill="#1e1e1e" stroke="#1e1e1e" stroke-width="0.22" font-weight="bold">+3.0</text>
<line x1="385.6" y1="348.4" x2="567.3" y2="348.4" stroke="#e03030" stroke-width="1" stroke-dasharray="2.7,1.8"/>
<rect x="466.3" y="306.4" width="33.1" height="8" stroke="#e8521c" stroke-width="1.3" fill="#ffff00"/>
<rect x="466.5" y="440.6" width="32.8" height="8" stroke="#e8521c" stroke-width="1.3" fill="#ffff00"/>
<line x1="482.3" y1="368" x2="482.3" y2="319.8" stroke="#111" stroke-width="1"/>
<polygon points="482.3,315.3 484.1,320.8 480.5,320.8" fill="#111"/>
<line x1="482.3" y1="387.5" x2="482.3" y2="435.2" stroke="#111" stroke-width="1"/>
<polygon points="482.3,440.2 480.5,434.2 484.1,434.2" fill="#111"/>
<text x="483.7" y="379.9" font-size="8.8" text-anchor="middle" fill="#2b2bd0" stroke="#2b2bd0" stroke-width="0.22" font-weight="bold">Eg=3.25 eV</text>
<text x="462.5" y="313.34" font-size="8.6" text-anchor="end" fill="#2b2bd0" stroke="#2b2bd0" stroke-width="0.22" font-weight="bold">-0.84 eV</text>
<text x="462.8" y="447.74" font-size="8.6" text-anchor="end" fill="#2b2bd0" stroke="#2b2bd0" stroke-width="0.22" font-weight="bold">2.41 eV</text>
<text x="482.3" y="464.23" font-size="9.8" text-anchor="middle" fill="#1e1e1e" stroke="#1e1e1e" stroke-width="0.22" font-weight="bold">ST-400</text>
</svg>
</body></html>
